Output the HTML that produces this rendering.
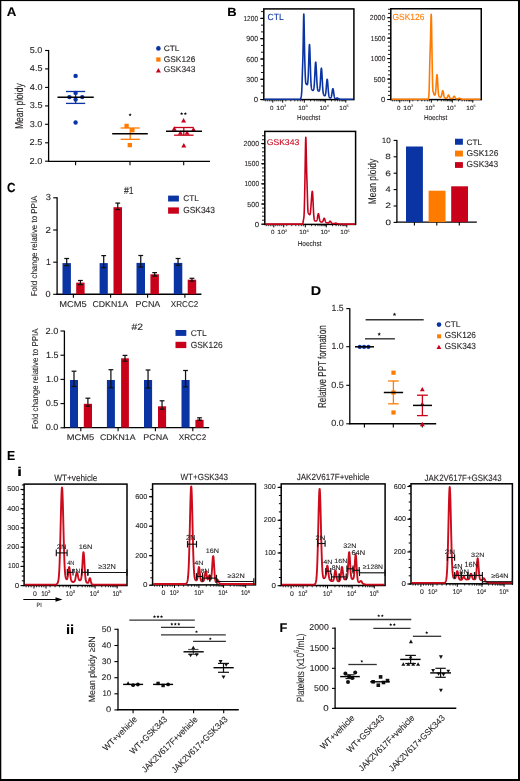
<!DOCTYPE html>
<html><head><meta charset="utf-8"><style>
html,body{margin:0;padding:0;background:#fff;}
svg{display:block;will-change:transform;font-family:"Liberation Sans",sans-serif;}
text{stroke-width:0.1px;text-rendering:geometricPrecision;}
</style></head><body>
<svg width="520" height="781" viewBox="0 0 520 781" fill="#231f20">
<rect x="0" y="0" width="520" height="781" fill="#000"/>
<rect x="1.3" y="1.1" width="516.7" height="777.9" fill="#fff"/>
<text x="6.67" y="16.1" font-size="12.5" font-weight="bold" fill="#000" stroke="#000" textLength="9.58" lengthAdjust="spacingAndGlyphs">A</text>
<line x1="48.6" y1="49.9" x2="48.6" y2="161.9" stroke="#000" stroke-width="1.3"/>
<line x1="45.1" y1="50.5" x2="48.6" y2="50.5" stroke="#000" stroke-width="1.1"/>
<text x="29.73" y="52.87" font-size="8.62" stroke="#231f20" textLength="12.72" lengthAdjust="spacingAndGlyphs">5.0</text>
<line x1="45.1" y1="68.9" x2="48.6" y2="68.9" stroke="#000" stroke-width="1.1"/>
<text x="29.89" y="71.26" font-size="8.74" stroke="#231f20" textLength="12.59" lengthAdjust="spacingAndGlyphs">4.5</text>
<line x1="45.1" y1="87.4" x2="48.6" y2="87.4" stroke="#000" stroke-width="1.1"/>
<text x="29.89" y="89.77" font-size="8.62" stroke="#231f20" textLength="12.56" lengthAdjust="spacingAndGlyphs">4.0</text>
<line x1="45.1" y1="105.9" x2="48.6" y2="105.9" stroke="#000" stroke-width="1.1"/>
<text x="29.75" y="108.27" font-size="8.62" stroke="#231f20" textLength="12.73" lengthAdjust="spacingAndGlyphs">3.5</text>
<line x1="45.1" y1="124.3" x2="48.6" y2="124.3" stroke="#000" stroke-width="1.1"/>
<text x="29.75" y="126.67" font-size="8.62" stroke="#231f20" textLength="12.71" lengthAdjust="spacingAndGlyphs">3.0</text>
<line x1="45.1" y1="142.8" x2="48.6" y2="142.8" stroke="#000" stroke-width="1.1"/>
<text x="29.63" y="145.17" font-size="8.62" stroke="#231f20" textLength="12.85" lengthAdjust="spacingAndGlyphs">2.5</text>
<line x1="45.1" y1="161.2" x2="48.6" y2="161.2" stroke="#000" stroke-width="1.1"/>
<text x="29.64" y="163.57" font-size="8.62" stroke="#231f20" textLength="12.82" lengthAdjust="spacingAndGlyphs">2.0</text>
<line x1="48" y1="161.3" x2="210" y2="161.3" stroke="#000" stroke-width="1.3"/>
<line x1="75.6" y1="161.3" x2="75.6" y2="165.3" stroke="#000" stroke-width="1.1"/>
<line x1="130" y1="161.3" x2="130" y2="165.3" stroke="#000" stroke-width="1.1"/>
<line x1="183.7" y1="161.3" x2="183.7" y2="165.3" stroke="#000" stroke-width="1.1"/>
<text x="23.12" y="129.1" font-size="11.48" stroke="#231f20" textLength="45.81" lengthAdjust="spacingAndGlyphs" transform="rotate(-90 23.12 129.1)">Mean ploidy</text>
<line x1="75.6" y1="91.5" x2="75.6" y2="103.4" stroke="#0a33a3" stroke-width="1.3"/>
<line x1="66" y1="91.5" x2="85.2" y2="91.5" stroke="#0a33a3" stroke-width="1.3"/>
<line x1="66" y1="103.4" x2="85.2" y2="103.4" stroke="#0a33a3" stroke-width="1.3"/>
<circle cx="75.6" cy="75.9" r="2.2" fill="#0a33a3"/>
<circle cx="75.6" cy="92.9" r="2.2" fill="#0a33a3"/>
<circle cx="69.4" cy="97.1" r="2.2" fill="#0a33a3"/>
<circle cx="82.25" cy="97.1" r="2.2" fill="#0a33a3"/>
<circle cx="75.6" cy="99.6" r="2.2" fill="#0a33a3"/>
<circle cx="75.6" cy="122.5" r="2.2" fill="#0a33a3"/>
<line x1="57.5" y1="97.25" x2="93.75" y2="97.25" stroke="#000" stroke-width="1.5"/>
<line x1="130.2" y1="128" x2="130.2" y2="139.3" stroke="#ff7b00" stroke-width="1.3"/>
<line x1="120.6" y1="128" x2="139.8" y2="128" stroke="#ff7b00" stroke-width="1.3"/>
<line x1="120.6" y1="139.3" x2="139.8" y2="139.3" stroke="#ff7b00" stroke-width="1.3"/>
<rect x="124.45" y="123.75" width="4.3" height="4.3" fill="#ff7b00"/>
<rect x="130.25" y="128.05" width="4.3" height="4.3" fill="#ff7b00"/>
<rect x="127.65" y="142.95" width="4.3" height="4.3" fill="#ff7b00"/>
<line x1="112.2" y1="133.85" x2="147.8" y2="133.85" stroke="#000" stroke-width="1.5"/>
<polygon points="130.1,113.05 130.56,114.16 131.76,114.26 130.85,115.04 131.13,116.22 130.1,115.59 129.07,116.22 129.35,115.04 128.44,114.26 129.64,114.16" fill="#111"/>
<line x1="183.8" y1="127.5" x2="183.8" y2="135.2" stroke="#c8001a" stroke-width="1.3"/>
<line x1="174.05" y1="127.5" x2="193.55" y2="127.5" stroke="#c8001a" stroke-width="1.3"/>
<line x1="174.05" y1="135.2" x2="193.55" y2="135.2" stroke="#c8001a" stroke-width="1.3"/>
<polygon points="183.6,117.9 181.1,122.4 186.1,122.4" fill="#c8001a"/>
<polygon points="174.2,126.3 171.7,130.8 176.7,130.8" fill="#c8001a"/>
<polygon points="193.5,127 191,131.5 196,131.5" fill="#c8001a"/>
<polygon points="180.4,130.2 177.9,134.7 182.9,134.7" fill="#c8001a"/>
<polygon points="187.1,130.2 184.6,134.7 189.6,134.7" fill="#c8001a"/>
<polygon points="183.8,143.1 181.3,147.6 186.3,147.6" fill="#c8001a"/>
<line x1="166" y1="131.3" x2="202" y2="131.3" stroke="#000" stroke-width="1.5"/>
<polygon points="181.65,112 182.1,113.08 183.27,113.17 182.38,113.94 182.65,115.08 181.65,114.47 180.65,115.08 180.92,113.94 180.03,113.17 181.2,113.08" fill="#111"/>
<polygon points="185.35,112 185.8,113.08 186.97,113.17 186.08,113.94 186.35,115.08 185.35,114.47 184.35,115.08 184.62,113.94 183.73,113.17 184.9,113.08" fill="#111"/>
<circle cx="158.4" cy="48.4" r="2.3" fill="#0a33a3"/>
<text x="163.78" y="51.02" font-size="7.91" stroke="#231f20" textLength="15.7" lengthAdjust="spacingAndGlyphs">CTL</text>
<rect x="156.25" y="57.35" width="4.3" height="4.3" fill="#ff7b00"/>
<text x="163.78" y="61.52" font-size="8.19" stroke="#231f20" textLength="31.59" lengthAdjust="spacingAndGlyphs">GSK126</text>
<polygon points="158.4,68.1 155.9,72.6 160.9,72.6" fill="#c8001a"/>
<text x="163.78" y="72.32" font-size="8.33" stroke="#231f20" textLength="31.59" lengthAdjust="spacingAndGlyphs">GSK343</text>
<text x="227.23" y="16.3" font-size="11.92" font-weight="bold" fill="#000" stroke="#000" textLength="9.35" lengthAdjust="spacingAndGlyphs">B</text>
<rect x="263.8" y="8.9" width="90.1" height="90.7" fill="none" stroke="#000" stroke-width="1.5"/>
<line x1="261" y1="99.6" x2="263.8" y2="99.6" stroke="#000" stroke-width="0.9"/>
<line x1="261" y1="92.83" x2="263.8" y2="92.83" stroke="#000" stroke-width="0.9"/>
<line x1="261" y1="86.06" x2="263.8" y2="86.06" stroke="#000" stroke-width="0.9"/>
<line x1="261" y1="79.29" x2="263.8" y2="79.29" stroke="#000" stroke-width="0.9"/>
<line x1="261" y1="72.52" x2="263.8" y2="72.52" stroke="#000" stroke-width="0.9"/>
<line x1="261" y1="65.75" x2="263.8" y2="65.75" stroke="#000" stroke-width="0.9"/>
<line x1="261" y1="58.98" x2="263.8" y2="58.98" stroke="#000" stroke-width="0.9"/>
<line x1="261" y1="52.21" x2="263.8" y2="52.21" stroke="#000" stroke-width="0.9"/>
<line x1="261" y1="45.44" x2="263.8" y2="45.44" stroke="#000" stroke-width="0.9"/>
<line x1="261" y1="38.67" x2="263.8" y2="38.67" stroke="#000" stroke-width="0.9"/>
<line x1="261" y1="31.9" x2="263.8" y2="31.9" stroke="#000" stroke-width="0.9"/>
<line x1="261" y1="25.13" x2="263.8" y2="25.13" stroke="#000" stroke-width="0.9"/>
<line x1="261" y1="18.36" x2="263.8" y2="18.36" stroke="#000" stroke-width="0.9"/>
<line x1="261" y1="11.59" x2="263.8" y2="11.59" stroke="#000" stroke-width="0.9"/>
<line x1="260.2" y1="18.4" x2="263.8" y2="18.4" stroke="#000" stroke-width="1.1"/>
<text x="243.46" y="20.93" font-size="7.34" stroke="#231f20" textLength="14.59" lengthAdjust="spacingAndGlyphs">1200</text>
<line x1="260.2" y1="38.7" x2="263.8" y2="38.7" stroke="#000" stroke-width="1.1"/>
<text x="246.31" y="41.23" font-size="7.34" stroke="#231f20" textLength="11.77" lengthAdjust="spacingAndGlyphs">900</text>
<line x1="260.2" y1="59" x2="263.8" y2="59" stroke="#000" stroke-width="1.1"/>
<text x="246.28" y="61.53" font-size="7.34" stroke="#231f20" textLength="11.8" lengthAdjust="spacingAndGlyphs">600</text>
<line x1="260.2" y1="79.3" x2="263.8" y2="79.3" stroke="#000" stroke-width="1.1"/>
<text x="246.37" y="81.83" font-size="7.34" stroke="#231f20" textLength="11.7" lengthAdjust="spacingAndGlyphs">300</text>
<line x1="260.2" y1="99.6" x2="263.8" y2="99.6" stroke="#000" stroke-width="1.1"/>
<text x="253.78" y="102.13" font-size="7.34" stroke="#231f20" textLength="4.33" lengthAdjust="spacingAndGlyphs">0</text>
<line x1="272.8" y1="99.6" x2="272.8" y2="102.6" stroke="#000" stroke-width="1"/>
<line x1="282.7" y1="99.6" x2="282.7" y2="102.6" stroke="#000" stroke-width="1"/>
<line x1="304.3" y1="99.6" x2="304.3" y2="102.6" stroke="#000" stroke-width="1"/>
<line x1="325.3" y1="99.6" x2="325.3" y2="102.6" stroke="#000" stroke-width="1"/>
<line x1="345.8" y1="99.6" x2="345.8" y2="102.6" stroke="#000" stroke-width="1"/>
<line x1="310.62" y1="99.6" x2="310.62" y2="101.4" stroke="#000" stroke-width="0.8"/>
<line x1="314.32" y1="99.6" x2="314.32" y2="101.4" stroke="#000" stroke-width="0.8"/>
<line x1="316.94" y1="99.6" x2="316.94" y2="101.4" stroke="#000" stroke-width="0.8"/>
<line x1="318.98" y1="99.6" x2="318.98" y2="101.4" stroke="#000" stroke-width="0.8"/>
<line x1="320.64" y1="99.6" x2="320.64" y2="101.4" stroke="#000" stroke-width="0.8"/>
<line x1="322.05" y1="99.6" x2="322.05" y2="101.4" stroke="#000" stroke-width="0.8"/>
<line x1="323.26" y1="99.6" x2="323.26" y2="101.4" stroke="#000" stroke-width="0.8"/>
<line x1="324.34" y1="99.6" x2="324.34" y2="101.4" stroke="#000" stroke-width="0.8"/>
<line x1="331.47" y1="99.6" x2="331.47" y2="101.4" stroke="#000" stroke-width="0.8"/>
<line x1="335.08" y1="99.6" x2="335.08" y2="101.4" stroke="#000" stroke-width="0.8"/>
<line x1="337.64" y1="99.6" x2="337.64" y2="101.4" stroke="#000" stroke-width="0.8"/>
<line x1="339.63" y1="99.6" x2="339.63" y2="101.4" stroke="#000" stroke-width="0.8"/>
<line x1="341.25" y1="99.6" x2="341.25" y2="101.4" stroke="#000" stroke-width="0.8"/>
<line x1="342.62" y1="99.6" x2="342.62" y2="101.4" stroke="#000" stroke-width="0.8"/>
<line x1="343.81" y1="99.6" x2="343.81" y2="101.4" stroke="#000" stroke-width="0.8"/>
<line x1="344.86" y1="99.6" x2="344.86" y2="101.4" stroke="#000" stroke-width="0.8"/>
<line x1="265.3" y1="99.6" x2="265.3" y2="101.4" stroke="#000" stroke-width="0.8"/>
<line x1="267.3" y1="99.6" x2="267.3" y2="101.4" stroke="#000" stroke-width="0.8"/>
<line x1="269.3" y1="99.6" x2="269.3" y2="101.4" stroke="#000" stroke-width="0.8"/>
<line x1="271.1" y1="99.6" x2="271.1" y2="101.4" stroke="#000" stroke-width="0.8"/>
<line x1="274.8" y1="99.6" x2="274.8" y2="101.4" stroke="#000" stroke-width="0.8"/>
<line x1="276.8" y1="99.6" x2="276.8" y2="101.4" stroke="#000" stroke-width="0.8"/>
<line x1="278.8" y1="99.6" x2="278.8" y2="101.4" stroke="#000" stroke-width="0.8"/>
<line x1="280.8" y1="99.6" x2="280.8" y2="101.4" stroke="#000" stroke-width="0.8"/>
<line x1="285.8" y1="99.6" x2="285.8" y2="101.4" stroke="#000" stroke-width="0.8"/>
<line x1="290.8" y1="99.6" x2="290.8" y2="101.4" stroke="#000" stroke-width="0.8"/>
<line x1="294.8" y1="99.6" x2="294.8" y2="101.4" stroke="#000" stroke-width="0.8"/>
<line x1="297.8" y1="99.6" x2="297.8" y2="101.4" stroke="#000" stroke-width="0.8"/>
<line x1="300.3" y1="99.6" x2="300.3" y2="101.4" stroke="#000" stroke-width="0.8"/>
<line x1="302.3" y1="99.6" x2="302.3" y2="101.4" stroke="#000" stroke-width="0.8"/>
<text x="270.05" y="109.64" font-size="5.93" stroke="#231f20" textLength="3.49" lengthAdjust="spacingAndGlyphs">0</text>
<text x="276.37" y="109.64" font-size="5.93" stroke="#231f20" textLength="7.7" lengthAdjust="spacingAndGlyphs">10</text>
<text x="284.06" y="107.46" font-size="3.31" stroke="#231f20" textLength="2.15" lengthAdjust="spacingAndGlyphs">2</text>
<text x="298.2" y="109.64" font-size="5.93" stroke="#231f20" textLength="7.25" lengthAdjust="spacingAndGlyphs">10</text>
<text x="305.51" y="107.43" font-size="3.26" stroke="#231f20" textLength="2.07" lengthAdjust="spacingAndGlyphs">3</text>
<text x="319.5" y="109.64" font-size="5.93" stroke="#231f20" textLength="7.25" lengthAdjust="spacingAndGlyphs">10</text>
<text x="326.87" y="107.46" font-size="3.36" stroke="#231f20" textLength="1.95" lengthAdjust="spacingAndGlyphs">4</text>
<text x="339.3" y="109.64" font-size="5.93" stroke="#231f20" textLength="7.25" lengthAdjust="spacingAndGlyphs">10</text>
<text x="346.6" y="107.43" font-size="3.31" stroke="#231f20" textLength="2.07" lengthAdjust="spacingAndGlyphs">5</text>
<text x="297.08" y="119.83" font-size="7.35" stroke="#231f20" textLength="23.16" lengthAdjust="spacingAndGlyphs">Hoechst</text>
<path d="M264.5,99.3 L300.6,99.3 L300.7,98.87 L300.8,98.44 L300.9,98.01 L301,97.58 L301.1,97.14 L301.2,96.68 L301.3,96.17 L301.4,95.42 L301.5,94.51 L301.6,93.36 L301.7,91.87 L301.8,90 L301.9,87.7 L302,85.02 L302.1,82.02 L302.2,78.84 L302.3,75.59 L302.4,72.37 L302.5,69.23 L302.6,66.49 L302.7,63.7 L302.8,60.69 L302.9,57.25 L303,53.16 L303.1,48.29 L303.2,42.65 L303.3,36.4 L303.4,29.95 L303.5,23.86 L303.6,18.79 L303.7,15.36 L303.8,14 L303.9,14.89 L304,17.9 L304.1,22.61 L304.2,28.43 L304.3,34.74 L304.4,40.99 L304.5,46.81 L304.6,52.01 L304.7,56.55 L304.8,60.53 L304.9,64.07 L305,67.29 L305.1,70.53 L305.2,73.49 L305.3,76.13 L305.4,78.38 L305.5,80.19 L305.6,81.57 L305.7,82.54 L305.8,83.17 L305.9,83.57 L306,83.8 L306.1,83.94 L306.2,84.03 L306.3,84.1 L306.4,84.17 L306.5,84.22 L306.6,84.28 L306.7,84.38 L306.8,84.48 L306.9,84.57 L307,84.63 L307.1,84.67 L307.2,84.66 L307.3,84.59 L307.4,84.44 L307.5,84.19 L307.6,83.81 L307.7,83.25 L307.8,82.5 L307.9,81.49 L308,80.21 L308.1,78.62 L308.2,76.7 L308.3,74.43 L308.4,71.84 L308.5,68.94 L308.6,65.81 L308.7,62.51 L308.8,59.15 L308.9,55.85 L309,52.76 L309.1,49.97 L309.2,47.66 L309.3,45.93 L309.4,44.9 L309.5,44.6 L309.6,45.07 L309.7,46.28 L309.8,48.18 L309.9,50.66 L310,53.63 L310.1,56.93 L310.2,60.44 L310.3,64 L310.4,67.52 L310.5,70.87 L310.6,73.97 L310.7,76.78 L310.8,79.25 L310.9,81.39 L311,83.19 L311.1,84.68 L311.2,85.9 L311.3,86.87 L311.4,87.63 L311.5,88.23 L311.6,88.69 L311.7,89.05 L311.8,89.33 L311.9,89.55 L312,89.73 L312.1,89.87 L312.2,90 L312.3,90.11 L312.4,90.21 L312.5,90.3 L312.6,90.39 L312.7,90.47 L312.8,90.47 L312.9,90.46 L313,90.43 L313.1,90.39 L313.2,90.33 L313.3,90.24 L313.4,90.11 L313.5,89.93 L313.6,89.68 L313.7,89.34 L313.8,88.9 L313.9,88.34 L314,87.63 L314.1,86.76 L314.2,85.7 L314.3,84.45 L314.4,83.01 L314.5,81.36 L314.6,79.54 L314.7,77.56 L314.8,75.47 L314.9,73.31 L315,71.16 L315.1,69.08 L315.2,67.14 L315.3,65.43 L315.4,64.02 L315.5,62.96 L315.6,62.31 L315.7,62.1 L315.8,62.33 L315.9,63 L316,64.08 L316.1,65.51 L316.2,67.24 L316.3,69.2 L316.4,71.3 L316.5,73.48 L316.6,75.65 L316.7,77.76 L316.8,79.76 L316.9,81.61 L317,83.27 L317.1,84.74 L317.2,86.01 L317.3,87.08 L317.4,87.98 L317.5,88.7 L317.6,89.29 L317.7,89.75 L317.8,90.1 L317.9,90.37 L318,90.58 L318.1,90.73 L318.2,90.83 L318.3,90.91 L318.4,90.96 L318.5,90.99 L318.6,91 L318.7,91.07 L318.8,91.11 L318.9,91.14 L319,91.13 L319.1,91.09 L319.2,91 L319.3,90.85 L319.4,90.63 L319.5,90.31 L319.6,89.89 L319.7,89.34 L319.8,88.65 L319.9,87.8 L320,86.78 L320.1,85.58 L320.2,84.21 L320.3,82.69 L320.4,81.03 L320.5,79.26 L320.6,77.45 L320.7,75.63 L320.8,73.88 L320.9,72.26 L321,70.83 L321.1,69.67 L321.2,68.81 L321.3,68.32 L321.4,68.2 L321.5,68.47 L321.6,69.13 L321.7,70.14 L321.8,71.47 L321.9,73.05 L322,74.83 L322.1,76.74 L322.2,78.71 L322.3,80.69 L322.4,82.61 L322.5,84.42 L322.6,86.11 L322.7,87.63 L322.8,88.99 L322.9,90.17 L323,91.18 L323.1,92.03 L323.2,92.74 L323.3,93.32 L323.4,93.79 L323.5,94.17 L323.6,94.48 L323.7,94.73 L323.8,94.93 L323.9,95.09 L324,95.23 L324.1,95.35 L324.2,95.46 L324.3,95.54 L324.4,95.62 L324.5,95.69 L324.6,95.74 L324.7,95.78 L324.8,95.8 L324.9,95.75 L325,95.67 L325.1,95.55 L325.2,95.38 L325.3,95.14 L325.4,94.82 L325.5,94.42 L325.6,93.92 L325.7,93.3 L325.8,92.57 L325.9,91.71 L326,90.74 L326.1,89.65 L326.2,88.47 L326.3,87.21 L326.4,85.92 L326.5,84.64 L326.6,83.39 L326.7,82.24 L326.8,81.22 L326.9,80.38 L327,79.77 L327.1,79.4 L327.2,79.3 L327.3,79.47 L327.4,79.92 L327.5,80.61 L327.6,81.52 L327.7,82.61 L327.8,83.84 L327.9,85.16 L328,86.52 L328.1,87.89 L328.2,89.21 L328.3,90.47 L328.4,91.63 L328.5,92.68 L328.6,93.61 L328.7,94.42 L328.8,95.11 L328.9,95.69 L329,96.16 L329.1,96.55 L329.2,96.87 L329.3,97.11 L329.4,97.31 L329.5,97.47 L329.6,97.59 L329.7,97.69 L329.8,97.77 L329.9,97.83 L330,97.86 L330.1,97.88 L330.2,97.9 L330.3,97.9 L330.4,97.9 L330.5,97.88 L330.6,97.85 L330.7,97.8 L330.8,97.73 L330.9,97.62 L331,97.49 L331.1,97.31 L331.2,97.08 L331.3,96.8 L331.4,96.46 L331.5,96.05 L331.6,95.58 L331.7,95.04 L331.8,94.43 L331.9,93.78 L332,93.09 L332.1,92.38 L332.2,91.66 L332.3,90.98 L332.4,90.34 L332.5,89.77 L332.6,89.31 L332.7,88.97 L332.8,88.76 L332.9,88.7 L333,88.79 L333.1,89.03 L333.2,89.4 L333.3,89.89 L333.4,90.49 L333.5,91.15 L333.6,91.87 L333.7,92.61 L333.8,93.36 L333.9,94.08 L334,94.76 L334.1,95.39 L334.2,95.96 L334.3,96.47 L334.4,96.91 L334.5,97.28 L334.6,97.59 L334.7,97.84 L334.8,98.04 L334.9,98.2 L335,98.32 L335.1,98.42 L335.2,98.48 L335.3,98.53 L335.4,98.56 L335.5,98.58 L335.6,98.59 L335.7,98.58 L335.8,98.57 L335.9,98.54 L336,98.51 L336.1,98.47 L336.2,98.43 L336.3,98.38 L336.4,98.32 L336.5,98.27 L336.6,98.21 L336.7,98.15 L336.8,98.1 L336.9,98.06 L337,98.03 L337.1,98.01 L337.2,98 L337.3,98 L337.4,98.02 L337.5,98.05 L337.6,98.1 L337.7,98.15 L337.8,98.22 L337.9,98.29 L338,98.37 L338.1,98.45 L338.2,98.53 L338.3,98.61 L338.4,98.68 L338.5,98.75 L338.6,98.81 L338.7,98.87 L338.8,98.92 L338.9,98.97 L339,99.01 L339.1,99.03 L339.2,99.06 L339.3,99.08 L339.4,99.1 L339.5,99.11 L339.6,99.13 L339.7,99.14 L339.8,99.15 L339.9,99.16 L340,99.16 L340.1,99.17 L340.2,99.18 L340.3,99.19 L340.4,99.19 L340.5,99.2 L340.6,99.21 L340.7,99.21 L340.8,99.22 L340.9,99.23 L341,99.23 L341.1,99.24 L341.2,99.25 L341.3,99.25 L341.4,99.26 L341.5,99.27 L341.6,99.27 L341.7,99.28 L341.8,99.29 L353.2,99.3" stroke="#0a33a3" stroke-width="1.6" fill="none" stroke-linejoin="round"/>
<text x="267.56" y="19.51" font-size="8.9" fill="#0a33a3" stroke="#0a33a3" textLength="16.22" lengthAdjust="spacingAndGlyphs">CTL</text>
<rect x="390.8" y="8.75" width="90.45" height="90.85" fill="none" stroke="#000" stroke-width="1.5"/>
<line x1="388" y1="99.5" x2="390.8" y2="99.5" stroke="#000" stroke-width="0.9"/>
<line x1="388" y1="95.4" x2="390.8" y2="95.4" stroke="#000" stroke-width="0.9"/>
<line x1="388" y1="91.3" x2="390.8" y2="91.3" stroke="#000" stroke-width="0.9"/>
<line x1="388" y1="87.2" x2="390.8" y2="87.2" stroke="#000" stroke-width="0.9"/>
<line x1="388" y1="83.1" x2="390.8" y2="83.1" stroke="#000" stroke-width="0.9"/>
<line x1="388" y1="79" x2="390.8" y2="79" stroke="#000" stroke-width="0.9"/>
<line x1="388" y1="74.9" x2="390.8" y2="74.9" stroke="#000" stroke-width="0.9"/>
<line x1="388" y1="70.8" x2="390.8" y2="70.8" stroke="#000" stroke-width="0.9"/>
<line x1="388" y1="66.7" x2="390.8" y2="66.7" stroke="#000" stroke-width="0.9"/>
<line x1="388" y1="62.6" x2="390.8" y2="62.6" stroke="#000" stroke-width="0.9"/>
<line x1="388" y1="58.5" x2="390.8" y2="58.5" stroke="#000" stroke-width="0.9"/>
<line x1="388" y1="54.4" x2="390.8" y2="54.4" stroke="#000" stroke-width="0.9"/>
<line x1="388" y1="50.3" x2="390.8" y2="50.3" stroke="#000" stroke-width="0.9"/>
<line x1="388" y1="46.2" x2="390.8" y2="46.2" stroke="#000" stroke-width="0.9"/>
<line x1="388" y1="42.1" x2="390.8" y2="42.1" stroke="#000" stroke-width="0.9"/>
<line x1="388" y1="38" x2="390.8" y2="38" stroke="#000" stroke-width="0.9"/>
<line x1="388" y1="33.9" x2="390.8" y2="33.9" stroke="#000" stroke-width="0.9"/>
<line x1="388" y1="29.8" x2="390.8" y2="29.8" stroke="#000" stroke-width="0.9"/>
<line x1="388" y1="25.7" x2="390.8" y2="25.7" stroke="#000" stroke-width="0.9"/>
<line x1="388" y1="21.6" x2="390.8" y2="21.6" stroke="#000" stroke-width="0.9"/>
<line x1="388" y1="17.5" x2="390.8" y2="17.5" stroke="#000" stroke-width="0.9"/>
<line x1="388" y1="13.4" x2="390.8" y2="13.4" stroke="#000" stroke-width="0.9"/>
<line x1="388" y1="9.3" x2="390.8" y2="9.3" stroke="#000" stroke-width="0.9"/>
<line x1="387.2" y1="17.75" x2="390.8" y2="17.75" stroke="#000" stroke-width="1.1"/>
<text x="369.87" y="20.28" font-size="7.34" stroke="#231f20" textLength="15.5" lengthAdjust="spacingAndGlyphs">2000</text>
<line x1="387.2" y1="38.2" x2="390.8" y2="38.2" stroke="#000" stroke-width="1.1"/>
<text x="370.76" y="40.73" font-size="7.34" stroke="#231f20" textLength="14.59" lengthAdjust="spacingAndGlyphs">1500</text>
<line x1="387.2" y1="58.6" x2="390.8" y2="58.6" stroke="#000" stroke-width="1.1"/>
<text x="370.76" y="61.13" font-size="7.34" stroke="#231f20" textLength="14.59" lengthAdjust="spacingAndGlyphs">1000</text>
<line x1="387.2" y1="79.1" x2="390.8" y2="79.1" stroke="#000" stroke-width="1.1"/>
<text x="373.66" y="81.63" font-size="7.34" stroke="#231f20" textLength="11.72" lengthAdjust="spacingAndGlyphs">500</text>
<line x1="387.2" y1="99.5" x2="390.8" y2="99.5" stroke="#000" stroke-width="1.1"/>
<text x="381.08" y="102.03" font-size="7.34" stroke="#231f20" textLength="4.33" lengthAdjust="spacingAndGlyphs">0</text>
<line x1="399.8" y1="99.6" x2="399.8" y2="102.6" stroke="#000" stroke-width="1"/>
<line x1="409.7" y1="99.6" x2="409.7" y2="102.6" stroke="#000" stroke-width="1"/>
<line x1="431.3" y1="99.6" x2="431.3" y2="102.6" stroke="#000" stroke-width="1"/>
<line x1="452.3" y1="99.6" x2="452.3" y2="102.6" stroke="#000" stroke-width="1"/>
<line x1="472.8" y1="99.6" x2="472.8" y2="102.6" stroke="#000" stroke-width="1"/>
<line x1="437.62" y1="99.6" x2="437.62" y2="101.4" stroke="#000" stroke-width="0.8"/>
<line x1="441.32" y1="99.6" x2="441.32" y2="101.4" stroke="#000" stroke-width="0.8"/>
<line x1="443.94" y1="99.6" x2="443.94" y2="101.4" stroke="#000" stroke-width="0.8"/>
<line x1="445.98" y1="99.6" x2="445.98" y2="101.4" stroke="#000" stroke-width="0.8"/>
<line x1="447.64" y1="99.6" x2="447.64" y2="101.4" stroke="#000" stroke-width="0.8"/>
<line x1="449.05" y1="99.6" x2="449.05" y2="101.4" stroke="#000" stroke-width="0.8"/>
<line x1="450.26" y1="99.6" x2="450.26" y2="101.4" stroke="#000" stroke-width="0.8"/>
<line x1="451.34" y1="99.6" x2="451.34" y2="101.4" stroke="#000" stroke-width="0.8"/>
<line x1="458.47" y1="99.6" x2="458.47" y2="101.4" stroke="#000" stroke-width="0.8"/>
<line x1="462.08" y1="99.6" x2="462.08" y2="101.4" stroke="#000" stroke-width="0.8"/>
<line x1="464.64" y1="99.6" x2="464.64" y2="101.4" stroke="#000" stroke-width="0.8"/>
<line x1="466.63" y1="99.6" x2="466.63" y2="101.4" stroke="#000" stroke-width="0.8"/>
<line x1="468.25" y1="99.6" x2="468.25" y2="101.4" stroke="#000" stroke-width="0.8"/>
<line x1="469.62" y1="99.6" x2="469.62" y2="101.4" stroke="#000" stroke-width="0.8"/>
<line x1="470.81" y1="99.6" x2="470.81" y2="101.4" stroke="#000" stroke-width="0.8"/>
<line x1="471.86" y1="99.6" x2="471.86" y2="101.4" stroke="#000" stroke-width="0.8"/>
<line x1="392.3" y1="99.6" x2="392.3" y2="101.4" stroke="#000" stroke-width="0.8"/>
<line x1="394.3" y1="99.6" x2="394.3" y2="101.4" stroke="#000" stroke-width="0.8"/>
<line x1="396.3" y1="99.6" x2="396.3" y2="101.4" stroke="#000" stroke-width="0.8"/>
<line x1="398.1" y1="99.6" x2="398.1" y2="101.4" stroke="#000" stroke-width="0.8"/>
<line x1="401.8" y1="99.6" x2="401.8" y2="101.4" stroke="#000" stroke-width="0.8"/>
<line x1="403.8" y1="99.6" x2="403.8" y2="101.4" stroke="#000" stroke-width="0.8"/>
<line x1="405.8" y1="99.6" x2="405.8" y2="101.4" stroke="#000" stroke-width="0.8"/>
<line x1="407.8" y1="99.6" x2="407.8" y2="101.4" stroke="#000" stroke-width="0.8"/>
<line x1="412.8" y1="99.6" x2="412.8" y2="101.4" stroke="#000" stroke-width="0.8"/>
<line x1="417.8" y1="99.6" x2="417.8" y2="101.4" stroke="#000" stroke-width="0.8"/>
<line x1="421.8" y1="99.6" x2="421.8" y2="101.4" stroke="#000" stroke-width="0.8"/>
<line x1="424.8" y1="99.6" x2="424.8" y2="101.4" stroke="#000" stroke-width="0.8"/>
<line x1="427.3" y1="99.6" x2="427.3" y2="101.4" stroke="#000" stroke-width="0.8"/>
<line x1="429.3" y1="99.6" x2="429.3" y2="101.4" stroke="#000" stroke-width="0.8"/>
<text x="397.05" y="109.64" font-size="5.93" stroke="#231f20" textLength="3.49" lengthAdjust="spacingAndGlyphs">0</text>
<text x="403.37" y="109.64" font-size="5.93" stroke="#231f20" textLength="7.7" lengthAdjust="spacingAndGlyphs">10</text>
<text x="411.06" y="107.46" font-size="3.31" stroke="#231f20" textLength="2.15" lengthAdjust="spacingAndGlyphs">2</text>
<text x="425.2" y="109.64" font-size="5.93" stroke="#231f20" textLength="7.25" lengthAdjust="spacingAndGlyphs">10</text>
<text x="432.51" y="107.43" font-size="3.26" stroke="#231f20" textLength="2.07" lengthAdjust="spacingAndGlyphs">3</text>
<text x="446.5" y="109.64" font-size="5.93" stroke="#231f20" textLength="7.25" lengthAdjust="spacingAndGlyphs">10</text>
<text x="453.87" y="107.46" font-size="3.36" stroke="#231f20" textLength="1.95" lengthAdjust="spacingAndGlyphs">4</text>
<text x="466.3" y="109.64" font-size="5.93" stroke="#231f20" textLength="7.25" lengthAdjust="spacingAndGlyphs">10</text>
<text x="473.6" y="107.43" font-size="3.31" stroke="#231f20" textLength="2.07" lengthAdjust="spacingAndGlyphs">5</text>
<text x="423.88" y="119.93" font-size="7.35" stroke="#231f20" textLength="23.37" lengthAdjust="spacingAndGlyphs">Hoechst</text>
<path d="M391.5,99.3 L428.2,99.3 L428.3,98.92 L428.4,98.54 L428.5,98.13 L428.6,97.66 L428.7,97.07 L428.8,96.24 L428.9,95.04 L429,93.3 L429.1,91.01 L429.2,87.97 L429.3,84.23 L429.4,79.94 L429.5,75.31 L429.6,70.61 L429.7,66.1 L429.8,61.95 L429.9,58.25 L430,54.98 L430.1,52.03 L430.2,49.22 L430.3,46.32 L430.4,43.1 L430.5,39.41 L430.6,35.2 L430.7,30.56 L430.8,25.76 L430.9,21.22 L431,17.42 L431.1,15.13 L431.2,14.4 L431.3,15.42 L431.4,18.13 L431.5,22.31 L431.6,27.58 L431.7,33.56 L431.8,39.89 L431.9,46.31 L432,52.67 L432.1,58.85 L432.2,64.8 L432.3,70.4 L432.4,75.54 L432.5,80.07 L432.6,83.85 L432.7,86.81 L432.8,88.96 L432.9,90.4 L433,91.28 L433.1,91.78 L433.2,92.04 L433.3,92.17 L433.4,92.25 L433.5,92.3 L433.6,92.72 L433.7,93.13 L433.8,93.55 L433.9,93.96 L434,94.38 L434.1,94.79 L434.2,94.86 L434.3,94.92 L434.4,94.98 L434.5,95.03 L434.6,95.06 L434.7,95.07 L434.8,95.06 L434.9,95 L435,94.89 L435.1,94.7 L435.2,94.44 L435.3,94.07 L435.4,93.58 L435.5,92.94 L435.6,92.15 L435.7,91.19 L435.8,90.05 L435.9,88.75 L436,87.3 L436.1,85.66 L436.2,83.94 L436.3,82.19 L436.4,80.48 L436.5,78.87 L436.6,77.42 L436.7,76.22 L436.8,75.33 L436.9,74.77 L437,74.6 L437.1,74.81 L437.2,75.4 L437.3,76.34 L437.4,77.58 L437.5,79.06 L437.6,80.71 L437.7,82.47 L437.8,84.25 L437.9,86.01 L438,87.69 L438.1,89.24 L438.2,90.64 L438.3,91.87 L438.4,92.93 L438.5,93.82 L438.6,94.56 L438.7,95.15 L438.8,95.62 L438.9,95.98 L439,96.26 L439.1,96.47 L439.2,96.63 L439.3,96.74 L439.4,96.83 L439.5,96.9 L439.6,96.95 L439.7,96.99 L439.8,97.02 L439.9,97.04 L440,97.07 L440.1,97.09 L440.2,97.1 L440.3,97.11 L440.4,97.12 L440.5,97.12 L440.6,97.11 L440.7,97.09 L440.8,97.05 L440.9,96.98 L441,96.89 L441.1,96.77 L441.2,96.61 L441.3,96.4 L441.4,96.15 L441.5,95.84 L441.6,95.47 L441.7,95.06 L441.8,94.59 L441.9,94.08 L442,93.55 L442.1,93.01 L442.2,92.48 L442.3,91.98 L442.4,91.54 L442.5,91.17 L442.6,90.9 L442.7,90.74 L442.8,90.7 L442.9,90.78 L443,90.98 L443.1,91.3 L443.2,91.7 L443.3,92.19 L443.4,92.73 L443.5,93.3 L443.6,93.88 L443.7,94.45 L443.8,95 L443.9,95.5 L444,95.96 L444.1,96.37 L444.2,96.72 L444.3,97.01 L444.4,97.26 L444.5,97.46 L444.6,97.63 L444.7,97.76 L444.8,97.86 L444.9,97.94 L445,98 L445.1,98.05 L445.2,98.1 L445.3,98.13 L445.4,98.16 L445.5,98.18 L445.6,98.21 L445.7,98.23 L445.8,98.25 L445.9,98.26 L446,98.27 L446.1,98.27 L446.2,98.26 L446.3,98.24 L446.4,98.21 L446.5,98.18 L446.6,98.13 L446.7,98.07 L446.8,97.99 L446.9,97.9 L447,97.78 L447.1,97.64 L447.2,97.47 L447.3,97.29 L447.4,97.08 L447.5,96.85 L447.6,96.61 L447.7,96.37 L447.8,96.12 L447.9,95.89 L448,95.66 L448.1,95.47 L448.2,95.31 L448.3,95.19 L448.4,95.12 L448.5,95.1 L448.6,95.13 L448.7,95.21 L448.8,95.34 L448.9,95.51 L449,95.71 L449.1,95.95 L449.2,96.19 L449.3,96.45 L449.4,96.7 L449.5,96.95 L449.6,97.19 L449.7,97.41 L449.8,97.6 L449.9,97.78 L450,97.93 L450.1,98.06 L450.2,98.16 L450.3,98.25 L450.4,98.32 L450.5,98.38 L450.6,98.42 L450.7,98.46 L450.8,98.49 L450.9,98.51 L451,98.52 L451.1,98.54 L451.2,98.55 L451.3,98.55 L451.4,98.56 L451.5,98.56 L451.6,98.57 L451.7,98.57 L451.8,98.56 L451.9,98.56 L452,98.54 L452.1,98.53 L452.2,98.5 L452.3,98.47 L452.4,98.43 L452.5,98.37 L452.6,98.3 L452.7,98.22 L452.8,98.12 L452.9,98 L453,97.87 L453.1,97.72 L453.2,97.56 L453.3,97.39 L453.4,97.21 L453.5,97.03 L453.6,96.86 L453.7,96.7 L453.8,96.56 L453.9,96.45 L454,96.36 L454.1,96.31 L454.2,96.3 L454.3,96.32 L454.4,96.38 L454.5,96.48 L454.6,96.6 L454.7,96.75 L454.8,96.92 L454.9,97.1 L455,97.29 L455.1,97.48 L455.2,97.66 L455.3,97.83 L455.4,97.99 L455.5,98.13 L455.6,98.26 L455.7,98.37 L455.8,98.46 L455.9,98.54 L456,98.61 L456.1,98.66 L456.2,98.7 L456.3,98.74 L456.4,98.76 L456.5,98.79 L456.6,98.8 L456.7,98.81 L456.8,98.83 L456.9,98.83 L457,98.84 L457.1,98.84 L457.2,98.85 L457.3,98.85 L457.4,98.84 L457.5,98.84 L457.6,98.83 L457.7,98.82 L457.8,98.81 L457.9,98.79 L458,98.76 L458.1,98.73 L458.2,98.7 L458.3,98.66 L458.4,98.62 L458.5,98.57 L458.6,98.52 L458.7,98.46 L458.8,98.41 L458.9,98.36 L459,98.31 L459.1,98.27 L459.2,98.23 L459.3,98.21 L459.4,98.2 L459.5,98.2 L459.6,98.21 L459.7,98.24 L459.8,98.27 L459.9,98.32 L460,98.38 L460.1,98.44 L460.2,98.5 L460.3,98.57 L460.4,98.64 L460.5,98.7 L460.6,98.76 L460.7,98.82 L460.8,98.87 L460.9,98.92 L461,98.96 L461.1,99 L461.2,99.03 L461.3,99.06 L461.4,99.08 L461.5,99.1 L461.6,99.11 L461.7,99.13 L461.8,99.14 L461.9,99.15 L462,99.16 L462.1,99.17 L462.2,99.18 L462.3,99.18 L462.4,99.19 L462.5,99.2 L462.6,99.21 L462.7,99.21 L462.8,99.22 L462.9,99.23 L463,99.23 L463.1,99.24 L463.2,99.25 L463.3,99.25 L463.4,99.26 L463.5,99.27 L463.6,99.27 L463.7,99.28 L463.8,99.29 L480.5,99.3" stroke="#ff7b00" stroke-width="1.6" fill="none" stroke-linejoin="round"/>
<text x="392.48" y="19.71" font-size="9.04" fill="#ff7b00" stroke="#ff7b00" textLength="31.9" lengthAdjust="spacingAndGlyphs">GSK126</text>
<rect x="264.8" y="131.4" width="90.8" height="93" fill="none" stroke="#000" stroke-width="1.5"/>
<line x1="262" y1="224.2" x2="264.8" y2="224.2" stroke="#000" stroke-width="0.9"/>
<line x1="262" y1="220.18" x2="264.8" y2="220.18" stroke="#000" stroke-width="0.9"/>
<line x1="262" y1="216.16" x2="264.8" y2="216.16" stroke="#000" stroke-width="0.9"/>
<line x1="262" y1="212.14" x2="264.8" y2="212.14" stroke="#000" stroke-width="0.9"/>
<line x1="262" y1="208.12" x2="264.8" y2="208.12" stroke="#000" stroke-width="0.9"/>
<line x1="262" y1="204.1" x2="264.8" y2="204.1" stroke="#000" stroke-width="0.9"/>
<line x1="262" y1="200.08" x2="264.8" y2="200.08" stroke="#000" stroke-width="0.9"/>
<line x1="262" y1="196.06" x2="264.8" y2="196.06" stroke="#000" stroke-width="0.9"/>
<line x1="262" y1="192.04" x2="264.8" y2="192.04" stroke="#000" stroke-width="0.9"/>
<line x1="262" y1="188.02" x2="264.8" y2="188.02" stroke="#000" stroke-width="0.9"/>
<line x1="262" y1="184" x2="264.8" y2="184" stroke="#000" stroke-width="0.9"/>
<line x1="262" y1="179.98" x2="264.8" y2="179.98" stroke="#000" stroke-width="0.9"/>
<line x1="262" y1="175.96" x2="264.8" y2="175.96" stroke="#000" stroke-width="0.9"/>
<line x1="262" y1="171.94" x2="264.8" y2="171.94" stroke="#000" stroke-width="0.9"/>
<line x1="262" y1="167.92" x2="264.8" y2="167.92" stroke="#000" stroke-width="0.9"/>
<line x1="262" y1="163.9" x2="264.8" y2="163.9" stroke="#000" stroke-width="0.9"/>
<line x1="262" y1="159.88" x2="264.8" y2="159.88" stroke="#000" stroke-width="0.9"/>
<line x1="262" y1="155.86" x2="264.8" y2="155.86" stroke="#000" stroke-width="0.9"/>
<line x1="262" y1="151.84" x2="264.8" y2="151.84" stroke="#000" stroke-width="0.9"/>
<line x1="262" y1="147.82" x2="264.8" y2="147.82" stroke="#000" stroke-width="0.9"/>
<line x1="262" y1="143.8" x2="264.8" y2="143.8" stroke="#000" stroke-width="0.9"/>
<line x1="262" y1="139.78" x2="264.8" y2="139.78" stroke="#000" stroke-width="0.9"/>
<line x1="262" y1="135.76" x2="264.8" y2="135.76" stroke="#000" stroke-width="0.9"/>
<line x1="261.2" y1="143.5" x2="264.8" y2="143.5" stroke="#000" stroke-width="1.1"/>
<text x="243.57" y="146.03" font-size="7.34" stroke="#231f20" textLength="15.5" lengthAdjust="spacingAndGlyphs">2000</text>
<line x1="261.2" y1="163.7" x2="264.8" y2="163.7" stroke="#000" stroke-width="1.1"/>
<text x="244.46" y="166.23" font-size="7.34" stroke="#231f20" textLength="14.59" lengthAdjust="spacingAndGlyphs">1500</text>
<line x1="261.2" y1="183.8" x2="264.8" y2="183.8" stroke="#000" stroke-width="1.1"/>
<text x="244.46" y="186.33" font-size="7.34" stroke="#231f20" textLength="14.59" lengthAdjust="spacingAndGlyphs">1000</text>
<line x1="261.2" y1="204" x2="264.8" y2="204" stroke="#000" stroke-width="1.1"/>
<text x="247.36" y="206.53" font-size="7.34" stroke="#231f20" textLength="11.72" lengthAdjust="spacingAndGlyphs">500</text>
<line x1="261.2" y1="224.2" x2="264.8" y2="224.2" stroke="#000" stroke-width="1.1"/>
<text x="254.78" y="226.73" font-size="7.34" stroke="#231f20" textLength="4.33" lengthAdjust="spacingAndGlyphs">0</text>
<line x1="273.8" y1="224.4" x2="273.8" y2="227.4" stroke="#000" stroke-width="1"/>
<line x1="283.7" y1="224.4" x2="283.7" y2="227.4" stroke="#000" stroke-width="1"/>
<line x1="305.3" y1="224.4" x2="305.3" y2="227.4" stroke="#000" stroke-width="1"/>
<line x1="326.3" y1="224.4" x2="326.3" y2="227.4" stroke="#000" stroke-width="1"/>
<line x1="346.8" y1="224.4" x2="346.8" y2="227.4" stroke="#000" stroke-width="1"/>
<line x1="311.62" y1="224.4" x2="311.62" y2="226.2" stroke="#000" stroke-width="0.8"/>
<line x1="315.32" y1="224.4" x2="315.32" y2="226.2" stroke="#000" stroke-width="0.8"/>
<line x1="317.94" y1="224.4" x2="317.94" y2="226.2" stroke="#000" stroke-width="0.8"/>
<line x1="319.98" y1="224.4" x2="319.98" y2="226.2" stroke="#000" stroke-width="0.8"/>
<line x1="321.64" y1="224.4" x2="321.64" y2="226.2" stroke="#000" stroke-width="0.8"/>
<line x1="323.05" y1="224.4" x2="323.05" y2="226.2" stroke="#000" stroke-width="0.8"/>
<line x1="324.26" y1="224.4" x2="324.26" y2="226.2" stroke="#000" stroke-width="0.8"/>
<line x1="325.34" y1="224.4" x2="325.34" y2="226.2" stroke="#000" stroke-width="0.8"/>
<line x1="332.47" y1="224.4" x2="332.47" y2="226.2" stroke="#000" stroke-width="0.8"/>
<line x1="336.08" y1="224.4" x2="336.08" y2="226.2" stroke="#000" stroke-width="0.8"/>
<line x1="338.64" y1="224.4" x2="338.64" y2="226.2" stroke="#000" stroke-width="0.8"/>
<line x1="340.63" y1="224.4" x2="340.63" y2="226.2" stroke="#000" stroke-width="0.8"/>
<line x1="342.25" y1="224.4" x2="342.25" y2="226.2" stroke="#000" stroke-width="0.8"/>
<line x1="343.62" y1="224.4" x2="343.62" y2="226.2" stroke="#000" stroke-width="0.8"/>
<line x1="344.81" y1="224.4" x2="344.81" y2="226.2" stroke="#000" stroke-width="0.8"/>
<line x1="345.86" y1="224.4" x2="345.86" y2="226.2" stroke="#000" stroke-width="0.8"/>
<line x1="266.3" y1="224.4" x2="266.3" y2="226.2" stroke="#000" stroke-width="0.8"/>
<line x1="268.3" y1="224.4" x2="268.3" y2="226.2" stroke="#000" stroke-width="0.8"/>
<line x1="270.3" y1="224.4" x2="270.3" y2="226.2" stroke="#000" stroke-width="0.8"/>
<line x1="272.1" y1="224.4" x2="272.1" y2="226.2" stroke="#000" stroke-width="0.8"/>
<line x1="275.8" y1="224.4" x2="275.8" y2="226.2" stroke="#000" stroke-width="0.8"/>
<line x1="277.8" y1="224.4" x2="277.8" y2="226.2" stroke="#000" stroke-width="0.8"/>
<line x1="279.8" y1="224.4" x2="279.8" y2="226.2" stroke="#000" stroke-width="0.8"/>
<line x1="281.8" y1="224.4" x2="281.8" y2="226.2" stroke="#000" stroke-width="0.8"/>
<line x1="286.8" y1="224.4" x2="286.8" y2="226.2" stroke="#000" stroke-width="0.8"/>
<line x1="291.8" y1="224.4" x2="291.8" y2="226.2" stroke="#000" stroke-width="0.8"/>
<line x1="295.8" y1="224.4" x2="295.8" y2="226.2" stroke="#000" stroke-width="0.8"/>
<line x1="298.8" y1="224.4" x2="298.8" y2="226.2" stroke="#000" stroke-width="0.8"/>
<line x1="301.3" y1="224.4" x2="301.3" y2="226.2" stroke="#000" stroke-width="0.8"/>
<line x1="303.3" y1="224.4" x2="303.3" y2="226.2" stroke="#000" stroke-width="0.8"/>
<text x="271.05" y="234.44" font-size="5.93" stroke="#231f20" textLength="3.49" lengthAdjust="spacingAndGlyphs">0</text>
<text x="277.37" y="234.44" font-size="5.93" stroke="#231f20" textLength="7.7" lengthAdjust="spacingAndGlyphs">10</text>
<text x="285.06" y="232.26" font-size="3.31" stroke="#231f20" textLength="2.15" lengthAdjust="spacingAndGlyphs">2</text>
<text x="299.2" y="234.44" font-size="5.93" stroke="#231f20" textLength="7.25" lengthAdjust="spacingAndGlyphs">10</text>
<text x="306.51" y="232.23" font-size="3.26" stroke="#231f20" textLength="2.07" lengthAdjust="spacingAndGlyphs">3</text>
<text x="320.5" y="234.44" font-size="5.93" stroke="#231f20" textLength="7.25" lengthAdjust="spacingAndGlyphs">10</text>
<text x="327.87" y="232.26" font-size="3.36" stroke="#231f20" textLength="1.95" lengthAdjust="spacingAndGlyphs">4</text>
<text x="340.3" y="234.44" font-size="5.93" stroke="#231f20" textLength="7.25" lengthAdjust="spacingAndGlyphs">10</text>
<text x="347.6" y="232.23" font-size="3.31" stroke="#231f20" textLength="2.07" lengthAdjust="spacingAndGlyphs">5</text>
<text x="297.67" y="245.93" font-size="7.35" stroke="#231f20" textLength="23.88" lengthAdjust="spacingAndGlyphs">Hoechst</text>
<path d="M265.5,224.1 L302.8,224.1 L302.9,223.43 L303,222.77 L303.1,222.1 L303.2,221.43 L303.3,220.77 L303.4,220.1 L303.5,219.63 L303.6,219.15 L303.7,218.62 L303.8,217.98 L303.9,217.15 L304,216 L304.1,214.38 L304.2,212.19 L304.3,209.33 L304.4,205.8 L304.5,201.68 L304.6,197.41 L304.7,192.76 L304.8,187.78 L304.9,182.5 L305,176.88 L305.1,170.92 L305.2,164.63 L305.3,158.19 L305.4,151.89 L305.5,146.18 L305.6,141.57 L305.7,138.53 L305.8,137.4 L305.9,138.27 L306,140.98 L306.1,145.12 L306.2,150.16 L306.3,155.52 L306.4,160.72 L306.5,165.44 L306.6,169.54 L306.7,173.08 L306.8,176.19 L306.9,179.11 L307,182.03 L307.1,185.13 L307.2,188.47 L307.3,192.03 L307.4,195.69 L307.5,199.27 L307.6,202.79 L307.7,205.83 L307.8,208.29 L307.9,210.12 L308,211.39 L308.1,212.22 L308.2,212.72 L308.3,213.04 L308.4,213.24 L308.5,213.4 L308.6,213.54 L308.7,213.68 L308.8,213.81 L308.9,213.94 L309,214.06 L309.1,214.19 L309.2,214.31 L309.3,214.42 L309.4,214.51 L309.5,214.61 L309.6,214.69 L309.7,214.72 L309.8,214.7 L309.9,214.61 L310,214.43 L310.1,214.15 L310.2,213.74 L310.3,213.2 L310.4,212.52 L310.5,211.7 L310.6,210.74 L310.7,209.65 L310.8,208.46 L310.9,207.19 L311,205.85 L311.1,204.44 L311.2,203 L311.3,201.56 L311.4,200.12 L311.5,198.69 L311.6,197.29 L311.7,195.95 L311.8,194.69 L311.9,193.55 L312,192.58 L312.1,191.84 L312.2,191.39 L312.3,191.26 L312.4,191.5 L312.5,192.13 L312.6,193.14 L312.7,194.51 L312.8,196.2 L312.9,198.14 L313,200.26 L313.1,202.49 L313.2,204.75 L313.3,206.96 L313.4,209.07 L313.5,211.03 L313.6,212.8 L313.7,214.37 L313.8,215.74 L313.9,216.9 L314,217.87 L314.1,218.67 L314.2,219.33 L314.3,219.76 L314.4,220.08 L314.5,220.33 L314.6,220.51 L314.7,220.64 L314.8,220.74 L314.9,220.81 L315,220.87 L315.1,220.91 L315.2,220.94 L315.3,220.97 L315.4,220.99 L315.5,221.01 L315.6,221.02 L315.7,221.04 L315.8,221.05 L315.9,221.05 L316,221.05 L316.1,221.05 L316.2,221.03 L316.3,221 L316.4,220.94 L316.5,220.87 L316.6,220.76 L316.7,220.62 L316.8,220.43 L316.9,220.19 L317,219.9 L317.1,219.55 L317.2,219.13 L317.3,218.66 L317.4,218.13 L317.5,217.55 L317.6,216.95 L317.7,216.34 L317.8,215.74 L317.9,215.17 L318,214.67 L318.1,214.25 L318.2,213.94 L318.3,213.75 L318.4,213.7 L318.5,213.79 L318.6,214.01 L318.7,214.35 L318.8,214.8 L318.9,215.34 L319,215.94 L319.1,216.57 L319.2,217.22 L319.3,217.85 L319.4,218.46 L319.5,219.02 L319.6,219.53 L319.7,219.98 L319.8,220.37 L319.9,220.69 L320,220.97 L320.1,221.19 L320.2,221.36 L320.3,221.5 L320.4,221.61 L320.5,221.7 L320.6,221.76 L320.7,221.81 L320.8,221.85 L320.9,221.89 L321,221.91 L321.1,221.94 L321.2,221.96 L321.3,221.97 L321.4,221.99 L321.5,222 L321.6,222.01 L321.7,222.02 L321.8,222.02 L321.9,222.02 L322,222.01 L322.1,221.98 L322.2,221.95 L322.3,221.9 L322.4,221.83 L322.5,221.74 L322.6,221.63 L322.7,221.49 L322.8,221.33 L322.9,221.13 L323,220.91 L323.1,220.66 L323.2,220.39 L323.3,220.1 L323.4,219.81 L323.5,219.51 L323.6,219.22 L323.7,218.96 L323.8,218.73 L323.9,218.54 L324,218.4 L324.1,218.32 L324.2,218.3 L324.3,218.35 L324.4,218.46 L324.5,218.63 L324.6,218.85 L324.7,219.11 L324.8,219.4 L324.9,219.72 L325,220.05 L325.1,220.37 L325.2,220.69 L325.3,220.99 L325.4,221.27 L325.5,221.52 L325.6,221.75 L325.7,221.94 L325.8,222.11 L325.9,222.25 L326,222.37 L326.1,222.47 L326.2,222.55 L326.3,222.61 L326.4,222.67 L326.5,222.71 L326.6,222.74 L326.7,222.77 L326.8,222.8 L326.9,222.82 L327,222.84 L327.1,222.86 L327.2,222.87 L327.3,222.89 L327.4,222.9 L327.5,222.92 L327.6,222.93 L327.7,222.94 L327.8,222.95 L327.9,222.95 L328,222.95 L328.1,222.95 L328.2,222.94 L328.3,222.92 L328.4,222.89 L328.5,222.85 L328.6,222.8 L328.7,222.74 L328.8,222.66 L328.9,222.57 L329,222.46 L329.1,222.34 L329.2,222.21 L329.3,222.07 L329.4,221.93 L329.5,221.78 L329.6,221.64 L329.7,221.52 L329.8,221.4 L329.9,221.31 L330,221.25 L330.1,221.21 L330.2,221.2 L330.3,221.22 L330.4,221.28 L330.5,221.37 L330.6,221.48 L330.7,221.61 L330.8,221.76 L330.9,221.93 L331,222.09 L331.1,222.26 L331.2,222.42 L331.3,222.58 L331.4,222.72 L331.5,222.85 L331.6,222.96 L331.7,223.06 L331.8,223.15 L331.9,223.22 L332,223.28 L332.1,223.33 L332.2,223.37 L332.3,223.41 L332.4,223.43 L332.5,223.45 L332.6,223.47 L332.7,223.49 L332.8,223.5 L332.9,223.51 L333,223.52 L333.1,223.53 L333.2,223.54 L333.3,223.54 L333.4,223.55 L333.5,223.55 L333.6,223.56 L333.7,223.56 L333.8,223.56 L333.9,223.56 L334,223.56 L334.1,223.56 L334.2,223.55 L334.3,223.54 L334.4,223.52 L334.5,223.5 L334.6,223.47 L334.7,223.44 L334.8,223.41 L334.9,223.37 L335,223.33 L335.1,223.29 L335.2,223.25 L335.3,223.21 L335.4,223.18 L335.5,223.15 L335.6,223.12 L335.7,223.1 L335.8,223.1 L335.9,223.1 L336,223.11 L336.1,223.13 L336.2,223.17 L336.3,223.21 L336.4,223.25 L336.5,223.3 L336.6,223.36 L336.7,223.41 L336.8,223.47 L336.9,223.52 L337,223.58 L337.1,223.62 L337.2,223.67 L337.3,223.71 L337.4,223.74 L337.5,223.78 L337.6,223.8 L337.7,223.83 L337.8,223.85 L337.9,223.86 L338,223.88 L338.1,223.89 L338.2,223.9 L338.3,223.91 L338.4,223.92 L338.5,223.92 L338.6,223.93 L338.7,223.93 L338.8,223.94 L338.9,223.94 L339,223.95 L339.1,223.95 L339.2,223.96 L339.3,223.96 L339.4,223.97 L339.5,223.97 L339.6,223.98 L339.7,223.98 L339.8,223.99 L339.9,223.99 L340,224 L340.1,224 L340.2,224.01 L340.3,224.01 L340.4,224.02 L340.5,224.02 L340.6,224.03 L340.7,224.03 L340.8,224.04 L340.9,224.04 L341,224.05 L341.1,224.05 L341.2,224.06 L341.3,224.06 L341.4,224.07 L341.5,224.07 L341.6,224.08 L341.7,224.08 L354.9,224.1" stroke="#c8001a" stroke-width="1.6" fill="none" stroke-linejoin="round"/>
<text x="266.77" y="144.62" font-size="8.33" fill="#c8001a" stroke="#c8001a" textLength="32.41" lengthAdjust="spacingAndGlyphs">GSK343</text>
<line x1="396.9" y1="140" x2="396.9" y2="222.6" stroke="#000" stroke-width="1.3"/>
<line x1="393.6" y1="140.4" x2="396.9" y2="140.4" stroke="#000" stroke-width="1.1"/>
<text x="381.8" y="142.73" font-size="7.63" stroke="#231f20" textLength="9.02" lengthAdjust="spacingAndGlyphs">10</text>
<line x1="393.6" y1="156.8" x2="396.9" y2="156.8" stroke="#000" stroke-width="1.1"/>
<text x="385.36" y="159.13" font-size="7.63" stroke="#231f20" textLength="5.57" lengthAdjust="spacingAndGlyphs">8</text>
<line x1="393.6" y1="173.2" x2="396.9" y2="173.2" stroke="#000" stroke-width="1.1"/>
<text x="385.28" y="175.53" font-size="7.63" stroke="#231f20" textLength="5.66" lengthAdjust="spacingAndGlyphs">6</text>
<line x1="393.6" y1="189.6" x2="396.9" y2="189.6" stroke="#000" stroke-width="1.1"/>
<text x="385.59" y="192" font-size="7.85" stroke="#231f20" textLength="5.19" lengthAdjust="spacingAndGlyphs">4</text>
<line x1="393.6" y1="206" x2="396.9" y2="206" stroke="#000" stroke-width="1.1"/>
<text x="385.28" y="208.4" font-size="7.73" stroke="#231f20" textLength="5.74" lengthAdjust="spacingAndGlyphs">2</text>
<line x1="393.6" y1="222.4" x2="396.9" y2="222.4" stroke="#000" stroke-width="1.1"/>
<text x="385.42" y="224.73" font-size="7.63" stroke="#231f20" textLength="5.47" lengthAdjust="spacingAndGlyphs">0</text>
<line x1="396.3" y1="222.1" x2="476.8" y2="222.1" stroke="#000" stroke-width="1.4"/>
<line x1="414.4" y1="222" x2="414.4" y2="225.6" stroke="#000" stroke-width="1.1"/>
<line x1="436.8" y1="222" x2="436.8" y2="225.6" stroke="#000" stroke-width="1.1"/>
<line x1="459.3" y1="222" x2="459.3" y2="225.6" stroke="#000" stroke-width="1.1"/>
<rect x="406" y="146.5" width="16.9" height="75.6" fill="#0a33a3"/>
<rect x="428.6" y="190.7" width="16.9" height="31.4" fill="#ff7b00"/>
<rect x="451.2" y="186.3" width="16.8" height="35.8" fill="#c8001a"/>
<text x="376.18" y="204.19" font-size="11.16" stroke="#231f20" textLength="45.41" lengthAdjust="spacingAndGlyphs" transform="rotate(-90 376.18 204.19)">Mean ploidy</text>
<rect x="455" y="138.75" width="7.9" height="6" fill="#0a33a3"/>
<text x="466.58" y="144.72" font-size="7.91" stroke="#231f20" textLength="15.49" lengthAdjust="spacingAndGlyphs">CTL</text>
<rect x="455" y="150.6" width="7.9" height="5.9" fill="#ff7b00"/>
<text x="466.58" y="155.72" font-size="8.47" stroke="#231f20" textLength="31.79" lengthAdjust="spacingAndGlyphs">GSK126</text>
<rect x="455" y="162.1" width="7.9" height="5.8" fill="#c8001a"/>
<text x="466.58" y="167.11" font-size="8.76" stroke="#231f20" textLength="31.59" lengthAdjust="spacingAndGlyphs">GSK343</text>
<text x="7.12" y="192.17" font-size="13.14" font-weight="bold" fill="#000" stroke="#000" textLength="8.51" lengthAdjust="spacingAndGlyphs">C</text>
<line x1="57.1" y1="197.2" x2="57.1" y2="294.8" stroke="#000" stroke-width="1.3"/>
<line x1="53.2" y1="197.8" x2="57.1" y2="197.8" stroke="#000" stroke-width="1.1"/>
<text x="45.65" y="200.41" font-size="8.76" stroke="#231f20" textLength="5.16" lengthAdjust="spacingAndGlyphs">3</text>
<line x1="53.2" y1="230" x2="57.1" y2="230" stroke="#000" stroke-width="1.1"/>
<text x="45.51" y="232.7" font-size="8.88" stroke="#231f20" textLength="5.37" lengthAdjust="spacingAndGlyphs">2</text>
<line x1="53.2" y1="262.2" x2="57.1" y2="262.2" stroke="#000" stroke-width="1.1"/>
<text x="45.93" y="264.9" font-size="9.01" stroke="#231f20" textLength="4.9" lengthAdjust="spacingAndGlyphs">1</text>
<line x1="53.2" y1="294.3" x2="57.1" y2="294.3" stroke="#000" stroke-width="1.1"/>
<text x="45.64" y="296.91" font-size="8.76" stroke="#231f20" textLength="5.12" lengthAdjust="spacingAndGlyphs">0</text>
<line x1="56.5" y1="294.2" x2="201.4" y2="294.2" stroke="#000" stroke-width="1.4"/>
<line x1="73.4" y1="294.2" x2="73.4" y2="297.8" stroke="#000" stroke-width="1.1"/>
<line x1="110.6" y1="294.2" x2="110.6" y2="297.8" stroke="#000" stroke-width="1.1"/>
<line x1="147.6" y1="294.2" x2="147.6" y2="297.8" stroke="#000" stroke-width="1.1"/>
<line x1="184.9" y1="294.2" x2="184.9" y2="297.8" stroke="#000" stroke-width="1.1"/>
<rect x="62.5" y="263.1" width="8.4" height="31.1" fill="#0a33a3"/>
<line x1="66.7" y1="258.5" x2="66.7" y2="265.6" stroke="#111" stroke-width="1.25"/>
<line x1="64.3" y1="258.5" x2="69.1" y2="258.5" stroke="#111" stroke-width="1.25"/>
<line x1="64.3" y1="265.6" x2="69.1" y2="265.6" stroke="#111" stroke-width="1.25"/>
<rect x="76.2" y="282.6" width="8.4" height="11.6" fill="#c8001a"/>
<line x1="80.4" y1="280.5" x2="80.4" y2="284.6" stroke="#111" stroke-width="1.25"/>
<line x1="78" y1="280.5" x2="82.8" y2="280.5" stroke="#111" stroke-width="1.25"/>
<line x1="78" y1="284.6" x2="82.8" y2="284.6" stroke="#111" stroke-width="1.25"/>
<rect x="99.6" y="263.1" width="8.2" height="31.1" fill="#0a33a3"/>
<line x1="103.7" y1="255.6" x2="103.7" y2="267.6" stroke="#111" stroke-width="1.25"/>
<line x1="101.3" y1="255.6" x2="106.1" y2="255.6" stroke="#111" stroke-width="1.25"/>
<line x1="101.3" y1="267.6" x2="106.1" y2="267.6" stroke="#111" stroke-width="1.25"/>
<rect x="113.5" y="207.2" width="8.5" height="87" fill="#c8001a"/>
<line x1="117.75" y1="203.1" x2="117.75" y2="209.6" stroke="#111" stroke-width="1.25"/>
<line x1="115.35" y1="203.1" x2="120.15" y2="203.1" stroke="#111" stroke-width="1.25"/>
<line x1="115.35" y1="209.6" x2="120.15" y2="209.6" stroke="#111" stroke-width="1.25"/>
<rect x="136.5" y="262.9" width="8.5" height="31.3" fill="#0a33a3"/>
<line x1="140.75" y1="255.5" x2="140.75" y2="267" stroke="#111" stroke-width="1.25"/>
<line x1="138.35" y1="255.5" x2="143.15" y2="255.5" stroke="#111" stroke-width="1.25"/>
<line x1="138.35" y1="267" x2="143.15" y2="267" stroke="#111" stroke-width="1.25"/>
<rect x="150.4" y="274.3" width="8.5" height="19.9" fill="#c8001a"/>
<line x1="154.65" y1="272.6" x2="154.65" y2="276" stroke="#111" stroke-width="1.25"/>
<line x1="152.25" y1="272.6" x2="157.05" y2="272.6" stroke="#111" stroke-width="1.25"/>
<line x1="152.25" y1="276" x2="157.05" y2="276" stroke="#111" stroke-width="1.25"/>
<rect x="173.8" y="262.9" width="8.5" height="31.3" fill="#0a33a3"/>
<line x1="178.05" y1="258.5" x2="178.05" y2="265.3" stroke="#111" stroke-width="1.25"/>
<line x1="175.65" y1="258.5" x2="180.45" y2="258.5" stroke="#111" stroke-width="1.25"/>
<line x1="175.65" y1="265.3" x2="180.45" y2="265.3" stroke="#111" stroke-width="1.25"/>
<rect x="187.7" y="279.7" width="8.5" height="14.5" fill="#c8001a"/>
<line x1="191.95" y1="278.3" x2="191.95" y2="281.1" stroke="#111" stroke-width="1.25"/>
<line x1="189.55" y1="278.3" x2="194.35" y2="278.3" stroke="#111" stroke-width="1.25"/>
<line x1="189.55" y1="281.1" x2="194.35" y2="281.1" stroke="#111" stroke-width="1.25"/>
<text x="59.34" y="307.32" font-size="8.47" stroke="#231f20" textLength="27.46" lengthAdjust="spacingAndGlyphs">MCM5</text>
<text x="92.45" y="307.32" font-size="8.47" stroke="#231f20" textLength="35.56" lengthAdjust="spacingAndGlyphs">CDKN1A</text>
<text x="135.57" y="307.32" font-size="8.47" stroke="#231f20" textLength="24.75" lengthAdjust="spacingAndGlyphs">PCNA</text>
<text x="170.82" y="307.32" font-size="8.47" stroke="#231f20" textLength="27.49" lengthAdjust="spacingAndGlyphs">XRCC2</text>
<text x="123.96" y="194.2" font-size="10.61" stroke="#231f20" textLength="9.56" lengthAdjust="spacingAndGlyphs">#1</text>
<rect x="168.1" y="195.6" width="10.8" height="5.9" fill="#0a33a3"/>
<text x="183.33" y="201.32" font-size="8.19" stroke="#231f20" textLength="15.65" lengthAdjust="spacingAndGlyphs">CTL</text>
<rect x="168.1" y="207.4" width="10.8" height="6.3" fill="#c8001a"/>
<text x="183.23" y="213.41" font-size="8.9" stroke="#231f20" textLength="31.74" lengthAdjust="spacingAndGlyphs">GSK343</text>
<text x="37.44" y="296.25" font-size="8.48" stroke="#231f20" textLength="100.67" lengthAdjust="spacingAndGlyphs" transform="rotate(-90 37.44 296.25)">Fold change relative to PPIA</text>
<line x1="64.4" y1="330.7" x2="64.4" y2="428.2" stroke="#000" stroke-width="1.3"/>
<line x1="60.5" y1="331" x2="64.4" y2="331" stroke="#000" stroke-width="1.1"/>
<text x="45.64" y="333.61" font-size="8.76" stroke="#231f20" textLength="12.82" lengthAdjust="spacingAndGlyphs">2.0</text>
<line x1="60.5" y1="355.2" x2="64.4" y2="355.2" stroke="#000" stroke-width="1.1"/>
<text x="46.02" y="357.81" font-size="8.89" stroke="#231f20" textLength="12.46" lengthAdjust="spacingAndGlyphs">1.5</text>
<line x1="60.5" y1="379.4" x2="64.4" y2="379.4" stroke="#000" stroke-width="1.1"/>
<text x="46.02" y="382.01" font-size="8.76" stroke="#231f20" textLength="12.43" lengthAdjust="spacingAndGlyphs">1.0</text>
<line x1="60.5" y1="403.6" x2="64.4" y2="403.6" stroke="#000" stroke-width="1.1"/>
<text x="45.74" y="406.21" font-size="8.76" stroke="#231f20" textLength="12.74" lengthAdjust="spacingAndGlyphs">0.5</text>
<line x1="60.5" y1="427.8" x2="64.4" y2="427.8" stroke="#000" stroke-width="1.1"/>
<text x="45.74" y="430.41" font-size="8.76" stroke="#231f20" textLength="12.71" lengthAdjust="spacingAndGlyphs">0.0</text>
<line x1="63.8" y1="427.6" x2="209.2" y2="427.6" stroke="#000" stroke-width="1.4"/>
<line x1="80.8" y1="427.6" x2="80.8" y2="431.2" stroke="#000" stroke-width="1.1"/>
<line x1="118.1" y1="427.6" x2="118.1" y2="431.2" stroke="#000" stroke-width="1.1"/>
<line x1="155.4" y1="427.6" x2="155.4" y2="431.2" stroke="#000" stroke-width="1.1"/>
<line x1="192.8" y1="427.6" x2="192.8" y2="431.2" stroke="#000" stroke-width="1.1"/>
<rect x="70" y="380" width="8" height="47.6" fill="#0a33a3"/>
<line x1="74" y1="371.2" x2="74" y2="386.5" stroke="#111" stroke-width="1.25"/>
<line x1="71.6" y1="371.2" x2="76.4" y2="371.2" stroke="#111" stroke-width="1.25"/>
<line x1="71.6" y1="386.5" x2="76.4" y2="386.5" stroke="#111" stroke-width="1.25"/>
<rect x="83.8" y="403.8" width="8.2" height="23.8" fill="#c8001a"/>
<line x1="87.9" y1="398.2" x2="87.9" y2="406.2" stroke="#111" stroke-width="1.25"/>
<line x1="85.5" y1="398.2" x2="90.3" y2="398.2" stroke="#111" stroke-width="1.25"/>
<line x1="85.5" y1="406.2" x2="90.3" y2="406.2" stroke="#111" stroke-width="1.25"/>
<rect x="106.9" y="380" width="8" height="47.6" fill="#0a33a3"/>
<line x1="110.9" y1="369.7" x2="110.9" y2="387.7" stroke="#111" stroke-width="1.25"/>
<line x1="108.5" y1="369.7" x2="113.3" y2="369.7" stroke="#111" stroke-width="1.25"/>
<line x1="108.5" y1="387.7" x2="113.3" y2="387.7" stroke="#111" stroke-width="1.25"/>
<rect x="121.1" y="358.3" width="7.8" height="69.3" fill="#c8001a"/>
<line x1="125" y1="355.4" x2="125" y2="361.2" stroke="#111" stroke-width="1.25"/>
<line x1="122.6" y1="355.4" x2="127.4" y2="355.4" stroke="#111" stroke-width="1.25"/>
<line x1="122.6" y1="361.2" x2="127.4" y2="361.2" stroke="#111" stroke-width="1.25"/>
<rect x="144" y="380" width="8.1" height="47.6" fill="#0a33a3"/>
<line x1="148.05" y1="370" x2="148.05" y2="388" stroke="#111" stroke-width="1.25"/>
<line x1="145.65" y1="370" x2="150.45" y2="370" stroke="#111" stroke-width="1.25"/>
<line x1="145.65" y1="388" x2="150.45" y2="388" stroke="#111" stroke-width="1.25"/>
<rect x="158" y="406.3" width="8.1" height="21.3" fill="#c8001a"/>
<line x1="162.05" y1="400.8" x2="162.05" y2="409.2" stroke="#111" stroke-width="1.25"/>
<line x1="159.65" y1="400.8" x2="164.45" y2="400.8" stroke="#111" stroke-width="1.25"/>
<line x1="159.65" y1="409.2" x2="164.45" y2="409.2" stroke="#111" stroke-width="1.25"/>
<rect x="181.5" y="380" width="8.1" height="47.6" fill="#0a33a3"/>
<line x1="185.55" y1="370.5" x2="185.55" y2="386.8" stroke="#111" stroke-width="1.25"/>
<line x1="183.15" y1="370.5" x2="187.95" y2="370.5" stroke="#111" stroke-width="1.25"/>
<line x1="183.15" y1="386.8" x2="187.95" y2="386.8" stroke="#111" stroke-width="1.25"/>
<rect x="195.4" y="419.8" width="8.2" height="7.8" fill="#c8001a"/>
<line x1="199.5" y1="417.8" x2="199.5" y2="420.2" stroke="#111" stroke-width="1.25"/>
<line x1="197.1" y1="417.8" x2="201.9" y2="417.8" stroke="#111" stroke-width="1.25"/>
<line x1="197.1" y1="420.2" x2="201.9" y2="420.2" stroke="#111" stroke-width="1.25"/>
<text x="66.74" y="440.32" font-size="8.19" stroke="#231f20" textLength="27.46" lengthAdjust="spacingAndGlyphs">MCM5</text>
<text x="99.95" y="440.32" font-size="8.19" stroke="#231f20" textLength="35.56" lengthAdjust="spacingAndGlyphs">CDKN1A</text>
<text x="143.37" y="440.32" font-size="8.19" stroke="#231f20" textLength="24.75" lengthAdjust="spacingAndGlyphs">PCNA</text>
<text x="178.72" y="440.32" font-size="8.19" stroke="#231f20" textLength="27.49" lengthAdjust="spacingAndGlyphs">XRCC2</text>
<text x="131.45" y="329.9" font-size="9.31" stroke="#231f20" textLength="11.46" lengthAdjust="spacingAndGlyphs">#2</text>
<rect x="175.5" y="330" width="10.8" height="5.9" fill="#0a33a3"/>
<text x="190.67" y="335.82" font-size="8.33" stroke="#231f20" textLength="15.91" lengthAdjust="spacingAndGlyphs">CTL</text>
<rect x="175.5" y="341.8" width="10.8" height="6.3" fill="#c8001a"/>
<text x="190.68" y="347.81" font-size="9.04" stroke="#231f20" textLength="31.9" lengthAdjust="spacingAndGlyphs">GSK126</text>
<text x="37.72" y="429.05" font-size="8.58" stroke="#231f20" textLength="100.57" lengthAdjust="spacingAndGlyphs" transform="rotate(-90 37.72 429.05)">Fold change relative to PPIA</text>
<text x="310.84" y="294.9" font-size="12.65" font-weight="bold" fill="#000" stroke="#000" textLength="10.36" lengthAdjust="spacingAndGlyphs">D</text>
<line x1="349.8" y1="308.2" x2="349.8" y2="424.3" stroke="#000" stroke-width="1.3"/>
<line x1="346.3" y1="308.6" x2="349.8" y2="308.6" stroke="#000" stroke-width="1.1"/>
<text x="331.54" y="311.01" font-size="9.17" stroke="#231f20" textLength="12.13" lengthAdjust="spacingAndGlyphs">1.5</text>
<line x1="346.3" y1="346.7" x2="349.8" y2="346.7" stroke="#000" stroke-width="1.1"/>
<text x="331.54" y="349.11" font-size="9.04" stroke="#231f20" textLength="12.1" lengthAdjust="spacingAndGlyphs">1.0</text>
<line x1="346.3" y1="385.3" x2="349.8" y2="385.3" stroke="#000" stroke-width="1.1"/>
<text x="331.15" y="387.71" font-size="9.04" stroke="#231f20" textLength="12.53" lengthAdjust="spacingAndGlyphs">0.5</text>
<line x1="346.3" y1="423.8" x2="349.8" y2="423.8" stroke="#000" stroke-width="1.1"/>
<text x="331.15" y="426.21" font-size="9.04" stroke="#231f20" textLength="12.5" lengthAdjust="spacingAndGlyphs">0.0</text>
<line x1="349.2" y1="423.8" x2="436.2" y2="423.8" stroke="#000" stroke-width="1.4"/>
<line x1="364.4" y1="423.8" x2="364.4" y2="427.6" stroke="#000" stroke-width="1.1"/>
<line x1="393.3" y1="423.8" x2="393.3" y2="427.6" stroke="#000" stroke-width="1.1"/>
<line x1="422.3" y1="423.8" x2="422.3" y2="427.6" stroke="#000" stroke-width="1.1"/>
<text x="326.09" y="407.96" font-size="11.44" stroke="#231f20" textLength="82.58" lengthAdjust="spacingAndGlyphs" transform="rotate(-90 326.09 407.96)">Relative PPT formation</text>
<line x1="365.6" y1="319.7" x2="423.7" y2="319.7" stroke="#333" stroke-width="1.4"/>
<polygon points="394.5,312.5 395,313.71 396.31,313.81 395.31,314.66 395.62,315.94 394.5,315.25 393.38,315.94 393.69,314.66 392.69,313.81 394,313.71" fill="#111"/>
<line x1="365" y1="338.8" x2="394.9" y2="338.8" stroke="#333" stroke-width="1.4"/>
<polygon points="379.2,332.2 379.7,333.41 381.01,333.51 380.01,334.36 380.32,335.64 379.2,334.95 378.08,335.64 378.39,334.36 377.39,333.51 378.7,333.41" fill="#111"/>
<circle cx="359.8" cy="346.9" r="2.1" fill="#0a33a3"/>
<circle cx="364.1" cy="346.9" r="2.1" fill="#0a33a3"/>
<circle cx="368.4" cy="346.9" r="2.1" fill="#0a33a3"/>
<line x1="355" y1="346.8" x2="374" y2="346.8" stroke="#000" stroke-width="1.5"/>
<line x1="393.4" y1="381" x2="393.4" y2="403.8" stroke="#ff7b00" stroke-width="1.3"/>
<line x1="388.1" y1="381" x2="398.7" y2="381" stroke="#ff7b00" stroke-width="1.3"/>
<line x1="388.1" y1="403.8" x2="398.7" y2="403.8" stroke="#ff7b00" stroke-width="1.3"/>
<rect x="391.4" y="370.6" width="4.2" height="4.2" fill="#ff7b00"/>
<rect x="391.4" y="390.4" width="4.2" height="4.2" fill="#ff7b00"/>
<rect x="391.4" y="410.4" width="4.2" height="4.2" fill="#ff7b00"/>
<line x1="383.8" y1="392.5" x2="403.1" y2="392.5" stroke="#000" stroke-width="1.5"/>
<line x1="422.4" y1="395.2" x2="422.4" y2="415.6" stroke="#c8001a" stroke-width="1.3"/>
<line x1="417" y1="395.2" x2="427.8" y2="395.2" stroke="#c8001a" stroke-width="1.3"/>
<line x1="417" y1="415.6" x2="427.8" y2="415.6" stroke="#c8001a" stroke-width="1.3"/>
<polygon points="422.3,387.01 419.9,391.33 424.7,391.33" fill="#c8001a"/>
<polygon points="422.3,401.71 419.9,406.03 424.7,406.03" fill="#c8001a"/>
<polygon points="422.3,421.81 419.9,426.13 424.7,426.13" fill="#c8001a"/>
<line x1="413" y1="405.4" x2="432" y2="405.4" stroke="#000" stroke-width="1.5"/>
<circle cx="439" cy="324.6" r="2.3" fill="#0a33a3"/>
<text x="444.68" y="327.22" font-size="8.19" stroke="#231f20" textLength="15.7" lengthAdjust="spacingAndGlyphs">CTL</text>
<rect x="437.1" y="334.3" width="4" height="4" fill="#ff7b00"/>
<text x="444.68" y="338.41" font-size="8.9" stroke="#231f20" textLength="31.28" lengthAdjust="spacingAndGlyphs">GSK126</text>
<polygon points="438.9,344.71 436.5,349.03 441.3,349.03" fill="#c8001a"/>
<text x="444.68" y="349.31" font-size="8.76" stroke="#231f20" textLength="31.28" lengthAdjust="spacingAndGlyphs">GSK343</text>
<text x="7.08" y="459.9" font-size="13.08" font-weight="bold" fill="#000" stroke="#000" textLength="8.2" lengthAdjust="spacingAndGlyphs">E</text>
<text x="17.13" y="476.3" font-size="12.7" font-weight="bold" fill="#000" stroke="#000" textLength="5.06" lengthAdjust="spacingAndGlyphs">i</text>
<rect x="24.1" y="484.1" width="102.9" height="101.4" fill="none" stroke="#000" stroke-width="1.5"/>
<line x1="21.8" y1="585.6" x2="24.1" y2="585.6" stroke="#000" stroke-width="1"/>
<line x1="21.8" y1="580.81" x2="24.1" y2="580.81" stroke="#000" stroke-width="1"/>
<line x1="21.8" y1="576.02" x2="24.1" y2="576.02" stroke="#000" stroke-width="1"/>
<line x1="21.8" y1="571.23" x2="24.1" y2="571.23" stroke="#000" stroke-width="1"/>
<line x1="21.8" y1="566.44" x2="24.1" y2="566.44" stroke="#000" stroke-width="1"/>
<line x1="21.8" y1="561.65" x2="24.1" y2="561.65" stroke="#000" stroke-width="1"/>
<line x1="21.8" y1="556.86" x2="24.1" y2="556.86" stroke="#000" stroke-width="1"/>
<line x1="21.8" y1="552.07" x2="24.1" y2="552.07" stroke="#000" stroke-width="1"/>
<line x1="21.8" y1="547.28" x2="24.1" y2="547.28" stroke="#000" stroke-width="1"/>
<line x1="21.8" y1="542.49" x2="24.1" y2="542.49" stroke="#000" stroke-width="1"/>
<line x1="21.8" y1="537.7" x2="24.1" y2="537.7" stroke="#000" stroke-width="1"/>
<line x1="21.8" y1="532.91" x2="24.1" y2="532.91" stroke="#000" stroke-width="1"/>
<line x1="21.8" y1="528.12" x2="24.1" y2="528.12" stroke="#000" stroke-width="1"/>
<line x1="21.8" y1="523.33" x2="24.1" y2="523.33" stroke="#000" stroke-width="1"/>
<line x1="21.8" y1="518.54" x2="24.1" y2="518.54" stroke="#000" stroke-width="1"/>
<line x1="21.8" y1="513.75" x2="24.1" y2="513.75" stroke="#000" stroke-width="1"/>
<line x1="21.8" y1="508.96" x2="24.1" y2="508.96" stroke="#000" stroke-width="1"/>
<line x1="21.8" y1="504.17" x2="24.1" y2="504.17" stroke="#000" stroke-width="1"/>
<line x1="21.8" y1="499.38" x2="24.1" y2="499.38" stroke="#000" stroke-width="1"/>
<line x1="21.8" y1="494.59" x2="24.1" y2="494.59" stroke="#000" stroke-width="1"/>
<line x1="21.8" y1="489.8" x2="24.1" y2="489.8" stroke="#000" stroke-width="1"/>
<line x1="21.8" y1="485.01" x2="24.1" y2="485.01" stroke="#000" stroke-width="1"/>
<line x1="20.5" y1="489.45" x2="24.1" y2="489.45" stroke="#000" stroke-width="1.1"/>
<text x="7.22" y="491.48" font-size="7.06" stroke="#231f20" textLength="12.06" lengthAdjust="spacingAndGlyphs">500</text>
<line x1="20.5" y1="508.6" x2="24.1" y2="508.6" stroke="#000" stroke-width="1.1"/>
<text x="7.35" y="510.63" font-size="7.06" stroke="#231f20" textLength="11.93" lengthAdjust="spacingAndGlyphs">400</text>
<line x1="20.5" y1="527.8" x2="24.1" y2="527.8" stroke="#000" stroke-width="1.1"/>
<text x="7.24" y="529.83" font-size="7.06" stroke="#231f20" textLength="12.05" lengthAdjust="spacingAndGlyphs">300</text>
<line x1="20.5" y1="547.1" x2="24.1" y2="547.1" stroke="#000" stroke-width="1.1"/>
<text x="7.14" y="549.13" font-size="7.06" stroke="#231f20" textLength="12.14" lengthAdjust="spacingAndGlyphs">200</text>
<line x1="20.5" y1="566.4" x2="24.1" y2="566.4" stroke="#000" stroke-width="1.1"/>
<text x="8.07" y="568.43" font-size="7.06" stroke="#231f20" textLength="11.19" lengthAdjust="spacingAndGlyphs">100</text>
<line x1="20.5" y1="585.6" x2="24.1" y2="585.6" stroke="#000" stroke-width="1.1"/>
<text x="14.86" y="587.63" font-size="7.06" stroke="#231f20" textLength="4.46" lengthAdjust="spacingAndGlyphs">0</text>
<line x1="34" y1="585.5" x2="34" y2="588.5" stroke="#000" stroke-width="1"/>
<line x1="46" y1="585.5" x2="46" y2="588.5" stroke="#000" stroke-width="1"/>
<line x1="70.4" y1="585.5" x2="70.4" y2="588.5" stroke="#000" stroke-width="1"/>
<line x1="95.1" y1="585.5" x2="95.1" y2="588.5" stroke="#000" stroke-width="1"/>
<line x1="117.2" y1="585.5" x2="117.2" y2="588.5" stroke="#000" stroke-width="1"/>
<line x1="77.84" y1="585.5" x2="77.84" y2="587.3" stroke="#000" stroke-width="0.8"/>
<line x1="82.18" y1="585.5" x2="82.18" y2="587.3" stroke="#000" stroke-width="0.8"/>
<line x1="85.27" y1="585.5" x2="85.27" y2="587.3" stroke="#000" stroke-width="0.8"/>
<line x1="87.66" y1="585.5" x2="87.66" y2="587.3" stroke="#000" stroke-width="0.8"/>
<line x1="89.62" y1="585.5" x2="89.62" y2="587.3" stroke="#000" stroke-width="0.8"/>
<line x1="91.27" y1="585.5" x2="91.27" y2="587.3" stroke="#000" stroke-width="0.8"/>
<line x1="92.71" y1="585.5" x2="92.71" y2="587.3" stroke="#000" stroke-width="0.8"/>
<line x1="93.97" y1="585.5" x2="93.97" y2="587.3" stroke="#000" stroke-width="0.8"/>
<line x1="101.75" y1="585.5" x2="101.75" y2="587.3" stroke="#000" stroke-width="0.8"/>
<line x1="105.64" y1="585.5" x2="105.64" y2="587.3" stroke="#000" stroke-width="0.8"/>
<line x1="108.41" y1="585.5" x2="108.41" y2="587.3" stroke="#000" stroke-width="0.8"/>
<line x1="110.55" y1="585.5" x2="110.55" y2="587.3" stroke="#000" stroke-width="0.8"/>
<line x1="112.3" y1="585.5" x2="112.3" y2="587.3" stroke="#000" stroke-width="0.8"/>
<line x1="113.78" y1="585.5" x2="113.78" y2="587.3" stroke="#000" stroke-width="0.8"/>
<line x1="115.06" y1="585.5" x2="115.06" y2="587.3" stroke="#000" stroke-width="0.8"/>
<line x1="116.19" y1="585.5" x2="116.19" y2="587.3" stroke="#000" stroke-width="0.8"/>
<line x1="26.1" y1="585.5" x2="26.1" y2="587.3" stroke="#000" stroke-width="0.8"/>
<line x1="28.6" y1="585.5" x2="28.6" y2="587.3" stroke="#000" stroke-width="0.8"/>
<line x1="31.1" y1="585.5" x2="31.1" y2="587.3" stroke="#000" stroke-width="0.8"/>
<line x1="36.6" y1="585.5" x2="36.6" y2="587.3" stroke="#000" stroke-width="0.8"/>
<line x1="39.1" y1="585.5" x2="39.1" y2="587.3" stroke="#000" stroke-width="0.8"/>
<line x1="41.6" y1="585.5" x2="41.6" y2="587.3" stroke="#000" stroke-width="0.8"/>
<line x1="43.8" y1="585.5" x2="43.8" y2="587.3" stroke="#000" stroke-width="0.8"/>
<line x1="50.1" y1="585.5" x2="50.1" y2="587.3" stroke="#000" stroke-width="0.8"/>
<line x1="55.1" y1="585.5" x2="55.1" y2="587.3" stroke="#000" stroke-width="0.8"/>
<line x1="59.6" y1="585.5" x2="59.6" y2="587.3" stroke="#000" stroke-width="0.8"/>
<line x1="63.1" y1="585.5" x2="63.1" y2="587.3" stroke="#000" stroke-width="0.8"/>
<line x1="66.1" y1="585.5" x2="66.1" y2="587.3" stroke="#000" stroke-width="0.8"/>
<line x1="68.4" y1="585.5" x2="68.4" y2="587.3" stroke="#000" stroke-width="0.8"/>
<text x="33.03" y="595.83" font-size="6.78" stroke="#231f20" textLength="3.84" lengthAdjust="spacingAndGlyphs">0</text>
<text x="41.13" y="595.83" font-size="6.78" stroke="#231f20" textLength="6.92" lengthAdjust="spacingAndGlyphs">10</text>
<text x="48.03" y="593.39" font-size="3.78" stroke="#231f20" textLength="2.46" lengthAdjust="spacingAndGlyphs">2</text>
<text x="65.82" y="595.83" font-size="6.78" stroke="#231f20" textLength="7.03" lengthAdjust="spacingAndGlyphs">10</text>
<text x="72.89" y="593.35" font-size="3.73" stroke="#231f20" textLength="2.36" lengthAdjust="spacingAndGlyphs">3</text>
<text x="89.83" y="595.83" font-size="6.78" stroke="#231f20" textLength="6.92" lengthAdjust="spacingAndGlyphs">10</text>
<text x="96.86" y="593.39" font-size="3.84" stroke="#231f20" textLength="2.23" lengthAdjust="spacingAndGlyphs">4</text>
<text x="112.43" y="595.83" font-size="6.78" stroke="#231f20" textLength="6.8" lengthAdjust="spacingAndGlyphs">10</text>
<text x="119.28" y="593.35" font-size="3.78" stroke="#231f20" textLength="2.36" lengthAdjust="spacingAndGlyphs">5</text>
<text x="54.26" y="480.51" font-size="9.26" stroke="#231f20" textLength="43.2" lengthAdjust="spacingAndGlyphs">WT+vehicle</text>
<path d="M24.8,584.6 L56,584.6 L56.2,584.46 L56.4,584.32 L56.6,584.17 L56.8,584.01 L57,583.84 L57.2,583.63 L57.4,583.38 L57.6,583.07 L57.8,582.66 L58,582.11 L58.2,581.35 L58.4,580.33 L58.6,578.94 L58.8,577.09 L59,574.68 L59.2,571.61 L59.4,567.75 L59.6,563.03 L59.8,557.39 L60,550.86 L60.2,543.52 L60.4,535.53 L60.6,527.13 L60.8,518.65 L61,510.46 L61.2,502.97 L61.4,496.6 L61.6,491.72 L61.8,488.62 L62,487.5 L62.2,488.42 L62.4,491.32 L62.6,496 L62.8,502.17 L63,509.46 L63.2,517.49 L63.4,525.81 L63.6,534.05 L63.8,541.88 L64,549.06 L64.2,555.43 L64.4,560.9 L64.6,565.47 L64.8,569.16 L65,572.07 L65.2,574.29 L65.4,575.95 L65.6,577.13 L65.8,577.96 L66,578.51 L66.2,578.84 L66.4,579.07 L66.6,579.22 L66.8,579.23 L67,579.07 L67.2,578.72 L67.4,578.12 L67.6,577.25 L67.8,576.07 L68,574.6 L68.2,572.92 L68.4,571.16 L68.6,569.5 L68.8,568.14 L69,567.26 L69.2,567 L69.4,567.41 L69.6,568.43 L69.8,569.94 L70,571.75 L70.2,573.66 L70.4,575.49 L70.6,577.11 L70.8,578.44 L71,579.48 L71.2,580.24 L71.4,580.79 L71.6,581.16 L71.8,581.41 L72,581.59 L72.2,581.72 L72.4,581.82 L72.6,581.9 L72.8,581.98 L73,582.06 L73.2,582.07 L73.4,582.01 L73.6,581.94 L73.8,581.86 L74,581.75 L74.2,581.6 L74.4,581.4 L74.6,581.11 L74.8,580.71 L75,580.18 L75.2,579.5 L75.4,578.66 L75.6,577.68 L75.8,576.6 L76,575.48 L76.2,574.4 L76.4,573.46 L76.6,572.76 L76.8,572.37 L77,572.32 L77.2,572.62 L77.4,573.22 L77.6,574.06 L77.8,575.04 L78,576.07 L78.2,577.06 L78.4,577.94 L78.6,578.68 L78.8,579.27 L79,579.7 L79.2,580 L79.4,580.19 L79.6,580.29 L79.8,580.33 L80,580.31 L80.2,580.23 L80.4,580.09 L80.6,579.85 L80.8,579.61 L81,579.16 L81.2,578.45 L81.4,577.37 L81.6,575.86 L81.8,573.85 L82,571.32 L82.2,568.32 L82.4,564.98 L82.6,561.52 L82.8,558.2 L83,555.35 L83.2,553.27 L83.4,552.21 L83.6,552.28 L83.8,553.5 L84,555.74 L84.2,558.74 L84.4,562.21 L84.6,565.84 L84.8,569.33 L85,572.48 L85.2,575.17 L85.4,577.34 L85.6,579.01 L85.8,580.24 L86,581.11 L86.2,581.71 L86.4,582.12 L86.6,582.4 L86.8,582.59 L87,582.73 L87.2,582.81 L87.4,582.87 L87.6,582.9 L87.8,582.88 L88,582.79 L88.2,582.6 L88.4,582.28 L88.6,581.81 L88.8,581.19 L89,580.45 L89.2,579.67 L89.4,578.94 L89.6,578.39 L89.8,578.11 L90,578.18 L90.2,578.58 L90.4,579.26 L90.6,580.12 L90.8,581.04 L91,581.91 L91.2,582.64 L91.4,583.23 L91.6,583.66 L91.8,583.96 L92,584.17 L92.2,584.31 L92.4,584.41 L92.6,584.48 L92.8,584.54 L93,584.6 L126.2,584.6" stroke="#cc0c1c" stroke-width="1.9" fill="none" stroke-linejoin="round"/>
<line x1="56.3" y1="552.9" x2="67.1" y2="552.9" stroke="#111" stroke-width="1.15"/>
<line x1="56.3" y1="549.6" x2="56.3" y2="556.2" stroke="#111" stroke-width="1.15"/>
<line x1="67.1" y1="549.6" x2="67.1" y2="556.2" stroke="#111" stroke-width="1.15"/>
<line x1="67.3" y1="572.3" x2="73" y2="572.3" stroke="#111" stroke-width="1.15"/>
<line x1="67.3" y1="569" x2="67.3" y2="575.6" stroke="#111" stroke-width="1.15"/>
<line x1="73" y1="569" x2="73" y2="575.6" stroke="#111" stroke-width="1.15"/>
<line x1="81.7" y1="572.3" x2="88" y2="572.3" stroke="#111" stroke-width="1.15"/>
<line x1="81.7" y1="569" x2="81.7" y2="575.6" stroke="#111" stroke-width="1.15"/>
<line x1="88" y1="569" x2="88" y2="575.6" stroke="#111" stroke-width="1.15"/>
<line x1="87.7" y1="572.5" x2="127" y2="572.5" stroke="#111" stroke-width="1.15"/>
<line x1="87.7" y1="569.2" x2="87.7" y2="575.8" stroke="#111" stroke-width="1.15"/>
<line x1="127" y1="569.2" x2="127" y2="575.8" stroke="#111" stroke-width="1.15"/>
<text x="56.82" y="548.8" font-size="6.59" stroke="#231f20" textLength="9.7" lengthAdjust="spacingAndGlyphs">2N</text>
<text x="67.17" y="565.1" font-size="6.25" stroke="#231f20" textLength="7.3" lengthAdjust="spacingAndGlyphs">4N</text>
<text x="71.81" y="572.74" font-size="6.07" stroke="#231f20" textLength="8.53" lengthAdjust="spacingAndGlyphs">8N</text>
<text x="78.73" y="548.74" font-size="6.5" stroke="#231f20" textLength="13.68" lengthAdjust="spacingAndGlyphs">16N</text>
<text x="98.27" y="569.03" font-size="7.2" stroke="#231f20" textLength="17.53" lengthAdjust="spacingAndGlyphs">≥32N</text>
<line x1="23.3" y1="599.5" x2="57" y2="599.5" stroke="#000" stroke-width="1.2"/>
<polygon points="62.5,599.5 55.5,597.2 55.5,601.8" fill="#000"/>
<text x="36.54" y="606.6" font-size="6.1" stroke="#231f20" textLength="5.27" lengthAdjust="spacingAndGlyphs">PI</text>
<rect x="152.6" y="483.9" width="102.9" height="101" fill="none" stroke="#000" stroke-width="1.5"/>
<line x1="150.3" y1="585.2" x2="152.6" y2="585.2" stroke="#000" stroke-width="1"/>
<line x1="150.3" y1="577.83" x2="152.6" y2="577.83" stroke="#000" stroke-width="1"/>
<line x1="150.3" y1="570.46" x2="152.6" y2="570.46" stroke="#000" stroke-width="1"/>
<line x1="150.3" y1="563.09" x2="152.6" y2="563.09" stroke="#000" stroke-width="1"/>
<line x1="150.3" y1="555.72" x2="152.6" y2="555.72" stroke="#000" stroke-width="1"/>
<line x1="150.3" y1="548.35" x2="152.6" y2="548.35" stroke="#000" stroke-width="1"/>
<line x1="150.3" y1="540.98" x2="152.6" y2="540.98" stroke="#000" stroke-width="1"/>
<line x1="150.3" y1="533.61" x2="152.6" y2="533.61" stroke="#000" stroke-width="1"/>
<line x1="150.3" y1="526.24" x2="152.6" y2="526.24" stroke="#000" stroke-width="1"/>
<line x1="150.3" y1="518.87" x2="152.6" y2="518.87" stroke="#000" stroke-width="1"/>
<line x1="150.3" y1="511.5" x2="152.6" y2="511.5" stroke="#000" stroke-width="1"/>
<line x1="150.3" y1="504.13" x2="152.6" y2="504.13" stroke="#000" stroke-width="1"/>
<line x1="150.3" y1="496.76" x2="152.6" y2="496.76" stroke="#000" stroke-width="1"/>
<line x1="150.3" y1="489.39" x2="152.6" y2="489.39" stroke="#000" stroke-width="1"/>
<line x1="149" y1="496.7" x2="152.6" y2="496.7" stroke="#000" stroke-width="1.1"/>
<text x="135.24" y="498.73" font-size="7.06" stroke="#231f20" textLength="12.14" lengthAdjust="spacingAndGlyphs">600</text>
<line x1="149" y1="526.2" x2="152.6" y2="526.2" stroke="#000" stroke-width="1.1"/>
<text x="135.45" y="528.23" font-size="7.06" stroke="#231f20" textLength="11.93" lengthAdjust="spacingAndGlyphs">400</text>
<line x1="149" y1="555.7" x2="152.6" y2="555.7" stroke="#000" stroke-width="1.1"/>
<text x="135.24" y="557.73" font-size="7.06" stroke="#231f20" textLength="12.14" lengthAdjust="spacingAndGlyphs">200</text>
<line x1="149" y1="585.2" x2="152.6" y2="585.2" stroke="#000" stroke-width="1.1"/>
<text x="142.96" y="587.23" font-size="7.06" stroke="#231f20" textLength="4.46" lengthAdjust="spacingAndGlyphs">0</text>
<line x1="162.5" y1="584.9" x2="162.5" y2="587.9" stroke="#000" stroke-width="1"/>
<line x1="174.5" y1="584.9" x2="174.5" y2="587.9" stroke="#000" stroke-width="1"/>
<line x1="198.9" y1="584.9" x2="198.9" y2="587.9" stroke="#000" stroke-width="1"/>
<line x1="223.6" y1="584.9" x2="223.6" y2="587.9" stroke="#000" stroke-width="1"/>
<line x1="245.7" y1="584.9" x2="245.7" y2="587.9" stroke="#000" stroke-width="1"/>
<line x1="206.34" y1="584.9" x2="206.34" y2="586.7" stroke="#000" stroke-width="0.8"/>
<line x1="210.68" y1="584.9" x2="210.68" y2="586.7" stroke="#000" stroke-width="0.8"/>
<line x1="213.77" y1="584.9" x2="213.77" y2="586.7" stroke="#000" stroke-width="0.8"/>
<line x1="216.16" y1="584.9" x2="216.16" y2="586.7" stroke="#000" stroke-width="0.8"/>
<line x1="218.12" y1="584.9" x2="218.12" y2="586.7" stroke="#000" stroke-width="0.8"/>
<line x1="219.77" y1="584.9" x2="219.77" y2="586.7" stroke="#000" stroke-width="0.8"/>
<line x1="221.21" y1="584.9" x2="221.21" y2="586.7" stroke="#000" stroke-width="0.8"/>
<line x1="222.47" y1="584.9" x2="222.47" y2="586.7" stroke="#000" stroke-width="0.8"/>
<line x1="230.25" y1="584.9" x2="230.25" y2="586.7" stroke="#000" stroke-width="0.8"/>
<line x1="234.14" y1="584.9" x2="234.14" y2="586.7" stroke="#000" stroke-width="0.8"/>
<line x1="236.91" y1="584.9" x2="236.91" y2="586.7" stroke="#000" stroke-width="0.8"/>
<line x1="239.05" y1="584.9" x2="239.05" y2="586.7" stroke="#000" stroke-width="0.8"/>
<line x1="240.8" y1="584.9" x2="240.8" y2="586.7" stroke="#000" stroke-width="0.8"/>
<line x1="242.28" y1="584.9" x2="242.28" y2="586.7" stroke="#000" stroke-width="0.8"/>
<line x1="243.56" y1="584.9" x2="243.56" y2="586.7" stroke="#000" stroke-width="0.8"/>
<line x1="244.69" y1="584.9" x2="244.69" y2="586.7" stroke="#000" stroke-width="0.8"/>
<line x1="154.6" y1="584.9" x2="154.6" y2="586.7" stroke="#000" stroke-width="0.8"/>
<line x1="157.1" y1="584.9" x2="157.1" y2="586.7" stroke="#000" stroke-width="0.8"/>
<line x1="159.6" y1="584.9" x2="159.6" y2="586.7" stroke="#000" stroke-width="0.8"/>
<line x1="165.1" y1="584.9" x2="165.1" y2="586.7" stroke="#000" stroke-width="0.8"/>
<line x1="167.6" y1="584.9" x2="167.6" y2="586.7" stroke="#000" stroke-width="0.8"/>
<line x1="170.1" y1="584.9" x2="170.1" y2="586.7" stroke="#000" stroke-width="0.8"/>
<line x1="172.3" y1="584.9" x2="172.3" y2="586.7" stroke="#000" stroke-width="0.8"/>
<line x1="178.6" y1="584.9" x2="178.6" y2="586.7" stroke="#000" stroke-width="0.8"/>
<line x1="183.6" y1="584.9" x2="183.6" y2="586.7" stroke="#000" stroke-width="0.8"/>
<line x1="188.1" y1="584.9" x2="188.1" y2="586.7" stroke="#000" stroke-width="0.8"/>
<line x1="191.6" y1="584.9" x2="191.6" y2="586.7" stroke="#000" stroke-width="0.8"/>
<line x1="194.6" y1="584.9" x2="194.6" y2="586.7" stroke="#000" stroke-width="0.8"/>
<line x1="196.9" y1="584.9" x2="196.9" y2="586.7" stroke="#000" stroke-width="0.8"/>
<text x="161.53" y="595.23" font-size="6.78" stroke="#231f20" textLength="3.84" lengthAdjust="spacingAndGlyphs">0</text>
<text x="169.63" y="595.23" font-size="6.78" stroke="#231f20" textLength="6.92" lengthAdjust="spacingAndGlyphs">10</text>
<text x="176.53" y="592.79" font-size="3.78" stroke="#231f20" textLength="2.46" lengthAdjust="spacingAndGlyphs">2</text>
<text x="194.32" y="595.23" font-size="6.78" stroke="#231f20" textLength="7.03" lengthAdjust="spacingAndGlyphs">10</text>
<text x="201.39" y="592.75" font-size="3.73" stroke="#231f20" textLength="2.36" lengthAdjust="spacingAndGlyphs">3</text>
<text x="218.33" y="595.23" font-size="6.78" stroke="#231f20" textLength="6.92" lengthAdjust="spacingAndGlyphs">10</text>
<text x="225.36" y="592.79" font-size="3.84" stroke="#231f20" textLength="2.23" lengthAdjust="spacingAndGlyphs">4</text>
<text x="240.93" y="595.23" font-size="6.78" stroke="#231f20" textLength="6.8" lengthAdjust="spacingAndGlyphs">10</text>
<text x="247.78" y="592.75" font-size="3.78" stroke="#231f20" textLength="2.36" lengthAdjust="spacingAndGlyphs">5</text>
<text x="180.46" y="480.41" font-size="9.04" stroke="#231f20" textLength="47.59" lengthAdjust="spacingAndGlyphs">WT+GSK343</text>
<path d="M153.3,584 L185.5,583.99 L185.7,583.83 L185.9,583.66 L186.1,583.48 L186.3,583.28 L186.5,583.06 L186.7,582.8 L186.9,582.48 L187.1,582.07 L187.3,581.51 L187.5,580.76 L187.7,579.73 L187.9,578.33 L188.1,576.47 L188.3,574.03 L188.5,570.86 L188.7,566.84 L188.9,561.88 L189.1,555.93 L189.3,549.01 L189.5,541.23 L189.7,532.79 L189.9,523.98 L190.1,515.17 L190.3,506.8 L190.5,499.35 L190.7,493.26 L190.9,488.92 L191.1,486.63 L191.3,486.53 L191.5,488.62 L191.7,492.76 L191.9,498.65 L192.1,505.96 L192.3,514.25 L192.5,522.99 L192.7,531.73 L192.9,540.09 L193.1,547.8 L193.3,554.64 L193.5,560.51 L193.7,565.4 L193.9,569.35 L194.1,572.45 L194.3,574.81 L194.5,576.56 L194.7,577.83 L194.9,578.72 L195.1,579.34 L195.3,579.76 L195.5,580.04 L195.7,580.22 L195.9,580.33 L196.1,580.4 L196.3,580.42 L196.5,580.37 L196.7,580.24 L196.9,579.98 L197.1,579.52 L197.3,578.82 L197.5,577.79 L197.7,576.43 L197.9,574.75 L198.1,572.86 L198.3,570.91 L198.5,569.14 L198.7,567.8 L198.9,567.08 L199.1,567.11 L199.3,567.89 L199.5,569.3 L199.7,571.13 L199.9,573.14 L200.1,575.11 L200.3,576.85 L200.5,578.28 L200.7,579.36 L200.9,580.14 L201.1,580.66 L201.3,580.99 L201.5,581.2 L201.7,581.3 L201.9,581.34 L202.1,581.35 L202.3,581.34 L202.5,581.33 L202.7,581.3 L202.9,581.26 L203.1,581.2 L203.3,581.08 L203.5,580.9 L203.7,580.62 L203.9,580.19 L204.1,579.59 L204.3,578.78 L204.5,577.75 L204.7,576.54 L204.9,575.23 L205.1,573.91 L205.3,572.74 L205.5,571.85 L205.7,571.37 L205.9,571.35 L206.1,571.81 L206.3,572.67 L206.5,573.82 L206.7,575.1 L206.9,576.38 L207.1,577.53 L207.3,578.45 L207.5,579.09 L207.7,579.41 L207.9,579.4 L208.1,579.05 L208.3,578.41 L208.5,577.58 L208.7,576.71 L208.9,575.98 L209.1,575.56 L209.3,575.55 L209.5,575.94 L209.7,576.64 L209.9,577.49 L210.1,578.32 L210.3,578.97 L210.5,579.34 L210.7,579.39 L210.9,579.06 L211.1,578.38 L211.3,577.3 L211.5,575.72 L211.7,573.62 L211.9,571.03 L212.1,568.05 L212.3,564.89 L212.5,561.8 L212.7,559.11 L212.9,557.12 L213.1,556.1 L213.3,556.18 L213.5,557.36 L213.7,559.51 L213.9,562.36 L214.1,565.61 L214.3,568.93 L214.5,572.07 L214.7,574.82 L214.9,577.1 L215.1,578.87 L215.3,580.17 L215.5,581.08 L215.7,581.65 L215.9,581.98 L216.1,582.1 L216.3,582.06 L216.5,581.88 L216.7,581.59 L216.9,581.21 L217.1,580.8 L217.3,580.42 L217.5,580.13 L217.7,580 L217.9,580.05 L218.1,580.3 L218.3,580.7 L218.5,581.2 L218.7,581.74 L218.9,582.24 L219.1,582.68 L219.3,583.03 L219.5,583.29 L219.7,583.49 L219.9,583.62 L220.1,583.72 L220.3,583.8 L220.5,583.86 L220.7,583.92 L220.9,583.97 L221.1,584 L254.7,584" stroke="#cc0c1c" stroke-width="1.9" fill="none" stroke-linejoin="round"/>
<line x1="187.5" y1="544.2" x2="196.5" y2="544.2" stroke="#111" stroke-width="1.15"/>
<line x1="187.5" y1="540.9" x2="187.5" y2="547.5" stroke="#111" stroke-width="1.15"/>
<line x1="196.5" y1="540.9" x2="196.5" y2="547.5" stroke="#111" stroke-width="1.15"/>
<line x1="196.5" y1="576.4" x2="202.6" y2="576.4" stroke="#111" stroke-width="1.15"/>
<line x1="196.5" y1="573.1" x2="196.5" y2="579.7" stroke="#111" stroke-width="1.15"/>
<line x1="202.6" y1="573.1" x2="202.6" y2="579.7" stroke="#111" stroke-width="1.15"/>
<line x1="202.6" y1="578.1" x2="209.8" y2="578.1" stroke="#111" stroke-width="1.15"/>
<line x1="202.6" y1="574.8" x2="202.6" y2="581.4" stroke="#111" stroke-width="1.15"/>
<line x1="209.8" y1="574.8" x2="209.8" y2="581.4" stroke="#111" stroke-width="1.15"/>
<line x1="209.8" y1="578.1" x2="216.5" y2="578.1" stroke="#111" stroke-width="1.15"/>
<line x1="209.8" y1="574.8" x2="209.8" y2="581.4" stroke="#111" stroke-width="1.15"/>
<line x1="216.5" y1="574.8" x2="216.5" y2="581.4" stroke="#111" stroke-width="1.15"/>
<line x1="217" y1="581.5" x2="253.8" y2="581.5" stroke="#111" stroke-width="1.15"/>
<line x1="217" y1="578.2" x2="217" y2="584.8" stroke="#111" stroke-width="1.15"/>
<line x1="253.8" y1="578.2" x2="253.8" y2="584.8" stroke="#111" stroke-width="1.15"/>
<text x="186.13" y="540.4" font-size="7.3" stroke="#231f20" textLength="9.37" lengthAdjust="spacingAndGlyphs">2N</text>
<text x="194.23" y="565.1" font-size="6.25" stroke="#231f20" textLength="9.37" lengthAdjust="spacingAndGlyphs">4N</text>
<text x="200.71" y="572.74" font-size="6.07" stroke="#231f20" textLength="8.65" lengthAdjust="spacingAndGlyphs">8N</text>
<text x="205.85" y="552.84" font-size="6.5" stroke="#231f20" textLength="13.24" lengthAdjust="spacingAndGlyphs">16N</text>
<text x="227.47" y="577.84" font-size="6.64" stroke="#231f20" textLength="17.43" lengthAdjust="spacingAndGlyphs">≥32N</text>
<rect x="281.2" y="483.9" width="103.9" height="101.6" fill="none" stroke="#000" stroke-width="1.5"/>
<line x1="278.9" y1="585.7" x2="281.2" y2="585.7" stroke="#000" stroke-width="1"/>
<line x1="278.9" y1="577.5" x2="281.2" y2="577.5" stroke="#000" stroke-width="1"/>
<line x1="278.9" y1="569.3" x2="281.2" y2="569.3" stroke="#000" stroke-width="1"/>
<line x1="278.9" y1="561.1" x2="281.2" y2="561.1" stroke="#000" stroke-width="1"/>
<line x1="278.9" y1="552.9" x2="281.2" y2="552.9" stroke="#000" stroke-width="1"/>
<line x1="278.9" y1="544.7" x2="281.2" y2="544.7" stroke="#000" stroke-width="1"/>
<line x1="278.9" y1="536.5" x2="281.2" y2="536.5" stroke="#000" stroke-width="1"/>
<line x1="278.9" y1="528.3" x2="281.2" y2="528.3" stroke="#000" stroke-width="1"/>
<line x1="278.9" y1="520.1" x2="281.2" y2="520.1" stroke="#000" stroke-width="1"/>
<line x1="278.9" y1="511.9" x2="281.2" y2="511.9" stroke="#000" stroke-width="1"/>
<line x1="278.9" y1="503.7" x2="281.2" y2="503.7" stroke="#000" stroke-width="1"/>
<line x1="278.9" y1="495.5" x2="281.2" y2="495.5" stroke="#000" stroke-width="1"/>
<line x1="278.9" y1="487.3" x2="281.2" y2="487.3" stroke="#000" stroke-width="1"/>
<line x1="277.6" y1="487.4" x2="281.2" y2="487.4" stroke="#000" stroke-width="1.1"/>
<text x="263.84" y="489.43" font-size="7.06" stroke="#231f20" textLength="12.05" lengthAdjust="spacingAndGlyphs">300</text>
<line x1="277.6" y1="520.3" x2="281.2" y2="520.3" stroke="#000" stroke-width="1.1"/>
<text x="263.74" y="522.33" font-size="7.06" stroke="#231f20" textLength="12.14" lengthAdjust="spacingAndGlyphs">200</text>
<line x1="277.6" y1="553" x2="281.2" y2="553" stroke="#000" stroke-width="1.1"/>
<text x="264.67" y="555.03" font-size="7.06" stroke="#231f20" textLength="11.19" lengthAdjust="spacingAndGlyphs">100</text>
<line x1="277.6" y1="585.7" x2="281.2" y2="585.7" stroke="#000" stroke-width="1.1"/>
<text x="271.46" y="587.73" font-size="7.06" stroke="#231f20" textLength="4.46" lengthAdjust="spacingAndGlyphs">0</text>
<line x1="291.1" y1="585.5" x2="291.1" y2="588.5" stroke="#000" stroke-width="1"/>
<line x1="303.1" y1="585.5" x2="303.1" y2="588.5" stroke="#000" stroke-width="1"/>
<line x1="327.5" y1="585.5" x2="327.5" y2="588.5" stroke="#000" stroke-width="1"/>
<line x1="352.2" y1="585.5" x2="352.2" y2="588.5" stroke="#000" stroke-width="1"/>
<line x1="374.3" y1="585.5" x2="374.3" y2="588.5" stroke="#000" stroke-width="1"/>
<line x1="334.94" y1="585.5" x2="334.94" y2="587.3" stroke="#000" stroke-width="0.8"/>
<line x1="339.28" y1="585.5" x2="339.28" y2="587.3" stroke="#000" stroke-width="0.8"/>
<line x1="342.37" y1="585.5" x2="342.37" y2="587.3" stroke="#000" stroke-width="0.8"/>
<line x1="344.76" y1="585.5" x2="344.76" y2="587.3" stroke="#000" stroke-width="0.8"/>
<line x1="346.72" y1="585.5" x2="346.72" y2="587.3" stroke="#000" stroke-width="0.8"/>
<line x1="348.37" y1="585.5" x2="348.37" y2="587.3" stroke="#000" stroke-width="0.8"/>
<line x1="349.81" y1="585.5" x2="349.81" y2="587.3" stroke="#000" stroke-width="0.8"/>
<line x1="351.07" y1="585.5" x2="351.07" y2="587.3" stroke="#000" stroke-width="0.8"/>
<line x1="358.85" y1="585.5" x2="358.85" y2="587.3" stroke="#000" stroke-width="0.8"/>
<line x1="362.74" y1="585.5" x2="362.74" y2="587.3" stroke="#000" stroke-width="0.8"/>
<line x1="365.51" y1="585.5" x2="365.51" y2="587.3" stroke="#000" stroke-width="0.8"/>
<line x1="367.65" y1="585.5" x2="367.65" y2="587.3" stroke="#000" stroke-width="0.8"/>
<line x1="369.4" y1="585.5" x2="369.4" y2="587.3" stroke="#000" stroke-width="0.8"/>
<line x1="370.88" y1="585.5" x2="370.88" y2="587.3" stroke="#000" stroke-width="0.8"/>
<line x1="372.16" y1="585.5" x2="372.16" y2="587.3" stroke="#000" stroke-width="0.8"/>
<line x1="373.29" y1="585.5" x2="373.29" y2="587.3" stroke="#000" stroke-width="0.8"/>
<line x1="283.2" y1="585.5" x2="283.2" y2="587.3" stroke="#000" stroke-width="0.8"/>
<line x1="285.7" y1="585.5" x2="285.7" y2="587.3" stroke="#000" stroke-width="0.8"/>
<line x1="288.2" y1="585.5" x2="288.2" y2="587.3" stroke="#000" stroke-width="0.8"/>
<line x1="293.7" y1="585.5" x2="293.7" y2="587.3" stroke="#000" stroke-width="0.8"/>
<line x1="296.2" y1="585.5" x2="296.2" y2="587.3" stroke="#000" stroke-width="0.8"/>
<line x1="298.7" y1="585.5" x2="298.7" y2="587.3" stroke="#000" stroke-width="0.8"/>
<line x1="300.9" y1="585.5" x2="300.9" y2="587.3" stroke="#000" stroke-width="0.8"/>
<line x1="307.2" y1="585.5" x2="307.2" y2="587.3" stroke="#000" stroke-width="0.8"/>
<line x1="312.2" y1="585.5" x2="312.2" y2="587.3" stroke="#000" stroke-width="0.8"/>
<line x1="316.7" y1="585.5" x2="316.7" y2="587.3" stroke="#000" stroke-width="0.8"/>
<line x1="320.2" y1="585.5" x2="320.2" y2="587.3" stroke="#000" stroke-width="0.8"/>
<line x1="323.2" y1="585.5" x2="323.2" y2="587.3" stroke="#000" stroke-width="0.8"/>
<line x1="325.5" y1="585.5" x2="325.5" y2="587.3" stroke="#000" stroke-width="0.8"/>
<text x="290.13" y="595.83" font-size="6.78" stroke="#231f20" textLength="3.84" lengthAdjust="spacingAndGlyphs">0</text>
<text x="298.23" y="595.83" font-size="6.78" stroke="#231f20" textLength="6.92" lengthAdjust="spacingAndGlyphs">10</text>
<text x="305.13" y="593.39" font-size="3.78" stroke="#231f20" textLength="2.46" lengthAdjust="spacingAndGlyphs">2</text>
<text x="322.92" y="595.83" font-size="6.78" stroke="#231f20" textLength="7.03" lengthAdjust="spacingAndGlyphs">10</text>
<text x="329.99" y="593.35" font-size="3.73" stroke="#231f20" textLength="2.36" lengthAdjust="spacingAndGlyphs">3</text>
<text x="346.93" y="595.83" font-size="6.78" stroke="#231f20" textLength="6.92" lengthAdjust="spacingAndGlyphs">10</text>
<text x="353.96" y="593.39" font-size="3.84" stroke="#231f20" textLength="2.23" lengthAdjust="spacingAndGlyphs">4</text>
<text x="369.53" y="595.83" font-size="6.78" stroke="#231f20" textLength="6.8" lengthAdjust="spacingAndGlyphs">10</text>
<text x="376.38" y="593.35" font-size="3.78" stroke="#231f20" textLength="2.36" lengthAdjust="spacingAndGlyphs">5</text>
<text x="296.67" y="480.41" font-size="8.85" stroke="#231f20" textLength="72.88" lengthAdjust="spacingAndGlyphs">JAK2V617F+vehicle</text>
<path d="M281.9,584.6 L314.1,584.59 L314.3,584.58 L314.5,584.56 L314.7,584.36 L314.9,584.15 L315.1,583.89 L315.3,583.57 L315.5,583.16 L315.7,582.61 L315.9,581.87 L316.1,580.85 L316.3,579.47 L316.5,577.61 L316.7,575.15 L316.9,571.97 L317.1,567.98 L317.3,563.09 L317.5,557.23 L317.7,550.43 L317.9,542.77 L318.1,534.46 L318.3,525.79 L318.5,517.12 L318.7,508.88 L318.9,501.55 L319.1,495.55 L319.3,491.28 L319.5,489.02 L319.7,488.92 L319.9,490.98 L320.1,495.05 L320.3,500.85 L320.5,507.98 L320.7,516.02 L320.9,524.49 L321.1,532.94 L321.3,541.02 L321.5,548.43 L321.7,555.01 L321.9,560.63 L322.1,565.28 L322.3,569 L322.5,571.89 L322.7,574.05 L322.9,575.61 L323.1,576.7 L323.3,577.42 L323.5,577.87 L323.7,578.12 L323.9,578.23 L324.1,578.24 L324.3,578.18 L324.5,578.06 L324.7,577.89 L324.9,577.64 L325.1,577.29 L325.3,576.8 L325.5,576.25 L325.7,575.58 L325.9,574.63 L326.1,573.4 L326.3,571.93 L326.5,570.32 L326.7,568.7 L326.9,567.28 L327.1,566.23 L327.3,565.72 L327.5,565.84 L327.7,566.58 L327.9,567.85 L328.1,569.51 L328.3,571.35 L328.5,573.2 L328.7,574.9 L328.9,576.35 L329.1,577.53 L329.3,578.43 L329.5,579.09 L329.7,579.57 L329.9,579.91 L330.1,580.15 L330.3,580.34 L330.5,580.49 L330.7,580.63 L330.9,580.75 L331.1,580.87 L331.3,580.98 L331.5,581.1 L331.7,581.11 L331.9,581.11 L332.1,581.11 L332.3,581.1 L332.5,581.08 L332.7,581.03 L332.9,580.93 L333.1,580.75 L333.3,580.45 L333.5,580 L333.7,579.35 L333.9,578.46 L334.1,577.34 L334.3,576.02 L334.5,574.58 L334.7,573.13 L334.9,571.85 L335.1,570.88 L335.3,570.36 L335.5,570.37 L335.7,570.9 L335.9,571.89 L336.1,573.19 L336.3,574.65 L336.5,576.11 L336.7,577.45 L336.9,578.59 L337.1,579.49 L337.3,580.15 L337.5,580.62 L337.7,580.93 L337.9,581.13 L338.1,581.24 L338.3,581.31 L338.5,581.35 L338.7,581.36 L338.9,581.36 L339.1,581.26 L339.3,581.12 L339.5,580.93 L339.7,580.63 L339.9,580.2 L340.1,579.57 L340.3,578.69 L340.5,577.52 L340.7,576.07 L340.9,574.36 L341.1,572.5 L341.3,570.65 L341.5,568.99 L341.7,567.73 L341.9,567.01 L342.1,566.95 L342.3,567.54 L342.5,568.68 L342.7,570.21 L342.9,571.94 L343.1,573.67 L343.3,575.25 L343.5,576.58 L343.7,577.62 L343.9,578.37 L344.1,578.87 L344.3,579.18 L344.5,579.35 L344.7,579.42 L344.9,579.43 L345.1,579.41 L345.3,579.37 L345.5,579.31 L345.7,579.24 L345.9,579.16 L346.1,579.06 L346.3,578.95 L346.5,578.8 L346.7,578.53 L346.9,578.07 L347.1,577.32 L347.3,576.18 L347.5,574.55 L347.7,572.34 L347.9,569.55 L348.1,566.26 L348.3,562.66 L348.5,559.07 L348.7,555.88 L348.9,553.46 L349.1,552.17 L349.3,552.17 L349.5,553.46 L349.7,555.88 L349.9,559.07 L350.1,562.66 L350.3,566.26 L350.5,569.55 L350.7,572.34 L350.9,574.55 L351.1,576.18 L351.3,577.32 L351.5,578.06 L351.7,578.53 L351.9,578.8 L352.1,578.94 L352.3,579.01 L352.5,579.02 L352.7,578.99 L352.9,578.89 L353.1,578.75 L353.3,578.53 L353.5,578.08 L353.7,577.31 L353.9,576.1 L354.1,574.38 L354.3,572.09 L354.5,569.26 L354.7,566.03 L354.9,562.64 L355.1,559.45 L355.3,556.82 L355.5,555.12 L355.7,554.6 L355.9,555.36 L356.1,557.29 L356.3,560.16 L356.5,563.59 L356.7,567.22 L356.9,570.68 L357.1,573.75 L357.3,576.27 L357.5,578.23 L357.7,579.67 L357.9,580.67 L358.1,581.35 L358.3,581.78 L358.5,582.05 L358.7,582.22 L358.9,582.3 L359.1,582.27 L359.3,582.18 L359.5,582.05 L359.7,581.88 L359.9,581.68 L360.1,581.46 L360.3,581.26 L360.5,581.1 L360.7,581 L360.9,580.98 L361.1,581.05 L361.3,581.2 L361.5,581.44 L361.7,581.74 L361.9,582.08 L362.1,582.43 L362.3,582.77 L362.5,583.08 L362.7,583.35 L362.9,583.58 L363.1,583.76 L363.3,583.9 L363.5,584 L363.7,584.08 L363.9,584.15 L364.1,584.2 L364.3,584.25 L364.5,584.29 L364.7,584.34 L364.9,584.38 L365.1,584.42 L365.3,584.46 L365.5,584.5 L365.7,584.54 L365.9,584.58 L366.1,584.6 L384.3,584.6" stroke="#cc0c1c" stroke-width="1.9" fill="none" stroke-linejoin="round"/>
<line x1="317.7" y1="543.5" x2="325.1" y2="543.5" stroke="#111" stroke-width="1.15"/>
<line x1="317.7" y1="540.2" x2="317.7" y2="546.8" stroke="#111" stroke-width="1.15"/>
<line x1="325.1" y1="540.2" x2="325.1" y2="546.8" stroke="#111" stroke-width="1.15"/>
<line x1="325.8" y1="571.2" x2="330.8" y2="571.2" stroke="#111" stroke-width="1.15"/>
<line x1="325.8" y1="567.9" x2="325.8" y2="574.5" stroke="#111" stroke-width="1.15"/>
<line x1="330.8" y1="567.9" x2="330.8" y2="574.5" stroke="#111" stroke-width="1.15"/>
<line x1="331.5" y1="576.9" x2="339.2" y2="576.9" stroke="#111" stroke-width="1.15"/>
<line x1="331.5" y1="573.6" x2="331.5" y2="580.2" stroke="#111" stroke-width="1.15"/>
<line x1="339.2" y1="573.6" x2="339.2" y2="580.2" stroke="#111" stroke-width="1.15"/>
<line x1="339.2" y1="576.9" x2="346.2" y2="576.9" stroke="#111" stroke-width="1.15"/>
<line x1="339.2" y1="573.6" x2="339.2" y2="580.2" stroke="#111" stroke-width="1.15"/>
<line x1="346.2" y1="573.6" x2="346.2" y2="580.2" stroke="#111" stroke-width="1.15"/>
<line x1="346.9" y1="568.8" x2="353" y2="568.8" stroke="#111" stroke-width="1.15"/>
<line x1="346.9" y1="565.5" x2="346.9" y2="572.1" stroke="#111" stroke-width="1.15"/>
<line x1="353" y1="565.5" x2="353" y2="572.1" stroke="#111" stroke-width="1.15"/>
<line x1="353" y1="570.3" x2="359.2" y2="570.3" stroke="#111" stroke-width="1.15"/>
<line x1="353" y1="567" x2="353" y2="573.6" stroke="#111" stroke-width="1.15"/>
<line x1="359.2" y1="567" x2="359.2" y2="573.6" stroke="#111" stroke-width="1.15"/>
<line x1="359.5" y1="572.8" x2="385.1" y2="572.8" stroke="#111" stroke-width="1.15"/>
<line x1="359.5" y1="569.5" x2="359.5" y2="576.1" stroke="#111" stroke-width="1.15"/>
<line x1="385.1" y1="569.5" x2="385.1" y2="576.1" stroke="#111" stroke-width="1.15"/>
<text x="315.41" y="539.5" font-size="6.59" stroke="#231f20" textLength="9.81" lengthAdjust="spacingAndGlyphs">2N</text>
<text x="323.33" y="563.5" font-size="6.25" stroke="#231f20" textLength="9.26" lengthAdjust="spacingAndGlyphs">4N</text>
<text x="331.7" y="570.23" font-size="6.92" stroke="#231f20" textLength="8.87" lengthAdjust="spacingAndGlyphs">8N</text>
<text x="334.35" y="563.44" font-size="6.07" stroke="#231f20" textLength="13.13" lengthAdjust="spacingAndGlyphs">16N</text>
<text x="343.23" y="548.14" font-size="6.64" stroke="#231f20" textLength="13.16" lengthAdjust="spacingAndGlyphs">32N</text>
<text x="351.42" y="554.83" font-size="6.92" stroke="#231f20" textLength="13.8" lengthAdjust="spacingAndGlyphs">64N</text>
<text x="362.88" y="568.74" font-size="6.5" stroke="#231f20" textLength="19.97" lengthAdjust="spacingAndGlyphs">≥128N</text>
<rect x="411" y="483.8" width="101.4" height="100" fill="none" stroke="#000" stroke-width="1.5"/>
<line x1="408.7" y1="584" x2="411" y2="584" stroke="#000" stroke-width="1"/>
<line x1="408.7" y1="575.8" x2="411" y2="575.8" stroke="#000" stroke-width="1"/>
<line x1="408.7" y1="567.6" x2="411" y2="567.6" stroke="#000" stroke-width="1"/>
<line x1="408.7" y1="559.4" x2="411" y2="559.4" stroke="#000" stroke-width="1"/>
<line x1="408.7" y1="551.2" x2="411" y2="551.2" stroke="#000" stroke-width="1"/>
<line x1="408.7" y1="543" x2="411" y2="543" stroke="#000" stroke-width="1"/>
<line x1="408.7" y1="534.8" x2="411" y2="534.8" stroke="#000" stroke-width="1"/>
<line x1="408.7" y1="526.6" x2="411" y2="526.6" stroke="#000" stroke-width="1"/>
<line x1="408.7" y1="518.4" x2="411" y2="518.4" stroke="#000" stroke-width="1"/>
<line x1="408.7" y1="510.2" x2="411" y2="510.2" stroke="#000" stroke-width="1"/>
<line x1="408.7" y1="502" x2="411" y2="502" stroke="#000" stroke-width="1"/>
<line x1="408.7" y1="493.8" x2="411" y2="493.8" stroke="#000" stroke-width="1"/>
<line x1="408.7" y1="485.6" x2="411" y2="485.6" stroke="#000" stroke-width="1"/>
<line x1="407.4" y1="486.5" x2="411" y2="486.5" stroke="#000" stroke-width="1.1"/>
<text x="393.74" y="488.53" font-size="7.06" stroke="#231f20" textLength="12.14" lengthAdjust="spacingAndGlyphs">600</text>
<line x1="407.4" y1="519.3" x2="411" y2="519.3" stroke="#000" stroke-width="1.1"/>
<text x="393.95" y="521.33" font-size="7.06" stroke="#231f20" textLength="11.93" lengthAdjust="spacingAndGlyphs">400</text>
<line x1="407.4" y1="552" x2="411" y2="552" stroke="#000" stroke-width="1.1"/>
<text x="393.74" y="554.03" font-size="7.06" stroke="#231f20" textLength="12.14" lengthAdjust="spacingAndGlyphs">200</text>
<line x1="407.4" y1="584" x2="411" y2="584" stroke="#000" stroke-width="1.1"/>
<text x="401.46" y="586.03" font-size="7.06" stroke="#231f20" textLength="4.46" lengthAdjust="spacingAndGlyphs">0</text>
<line x1="420.9" y1="583.8" x2="420.9" y2="586.8" stroke="#000" stroke-width="1"/>
<line x1="432.9" y1="583.8" x2="432.9" y2="586.8" stroke="#000" stroke-width="1"/>
<line x1="457.3" y1="583.8" x2="457.3" y2="586.8" stroke="#000" stroke-width="1"/>
<line x1="482" y1="583.8" x2="482" y2="586.8" stroke="#000" stroke-width="1"/>
<line x1="504.1" y1="583.8" x2="504.1" y2="586.8" stroke="#000" stroke-width="1"/>
<line x1="464.74" y1="583.8" x2="464.74" y2="585.6" stroke="#000" stroke-width="0.8"/>
<line x1="469.08" y1="583.8" x2="469.08" y2="585.6" stroke="#000" stroke-width="0.8"/>
<line x1="472.17" y1="583.8" x2="472.17" y2="585.6" stroke="#000" stroke-width="0.8"/>
<line x1="474.56" y1="583.8" x2="474.56" y2="585.6" stroke="#000" stroke-width="0.8"/>
<line x1="476.52" y1="583.8" x2="476.52" y2="585.6" stroke="#000" stroke-width="0.8"/>
<line x1="478.17" y1="583.8" x2="478.17" y2="585.6" stroke="#000" stroke-width="0.8"/>
<line x1="479.61" y1="583.8" x2="479.61" y2="585.6" stroke="#000" stroke-width="0.8"/>
<line x1="480.87" y1="583.8" x2="480.87" y2="585.6" stroke="#000" stroke-width="0.8"/>
<line x1="488.65" y1="583.8" x2="488.65" y2="585.6" stroke="#000" stroke-width="0.8"/>
<line x1="492.54" y1="583.8" x2="492.54" y2="585.6" stroke="#000" stroke-width="0.8"/>
<line x1="495.31" y1="583.8" x2="495.31" y2="585.6" stroke="#000" stroke-width="0.8"/>
<line x1="497.45" y1="583.8" x2="497.45" y2="585.6" stroke="#000" stroke-width="0.8"/>
<line x1="499.2" y1="583.8" x2="499.2" y2="585.6" stroke="#000" stroke-width="0.8"/>
<line x1="500.68" y1="583.8" x2="500.68" y2="585.6" stroke="#000" stroke-width="0.8"/>
<line x1="501.96" y1="583.8" x2="501.96" y2="585.6" stroke="#000" stroke-width="0.8"/>
<line x1="503.09" y1="583.8" x2="503.09" y2="585.6" stroke="#000" stroke-width="0.8"/>
<line x1="413" y1="583.8" x2="413" y2="585.6" stroke="#000" stroke-width="0.8"/>
<line x1="415.5" y1="583.8" x2="415.5" y2="585.6" stroke="#000" stroke-width="0.8"/>
<line x1="418" y1="583.8" x2="418" y2="585.6" stroke="#000" stroke-width="0.8"/>
<line x1="423.5" y1="583.8" x2="423.5" y2="585.6" stroke="#000" stroke-width="0.8"/>
<line x1="426" y1="583.8" x2="426" y2="585.6" stroke="#000" stroke-width="0.8"/>
<line x1="428.5" y1="583.8" x2="428.5" y2="585.6" stroke="#000" stroke-width="0.8"/>
<line x1="430.7" y1="583.8" x2="430.7" y2="585.6" stroke="#000" stroke-width="0.8"/>
<line x1="437" y1="583.8" x2="437" y2="585.6" stroke="#000" stroke-width="0.8"/>
<line x1="442" y1="583.8" x2="442" y2="585.6" stroke="#000" stroke-width="0.8"/>
<line x1="446.5" y1="583.8" x2="446.5" y2="585.6" stroke="#000" stroke-width="0.8"/>
<line x1="450" y1="583.8" x2="450" y2="585.6" stroke="#000" stroke-width="0.8"/>
<line x1="453" y1="583.8" x2="453" y2="585.6" stroke="#000" stroke-width="0.8"/>
<line x1="455.3" y1="583.8" x2="455.3" y2="585.6" stroke="#000" stroke-width="0.8"/>
<text x="419.93" y="594.13" font-size="6.78" stroke="#231f20" textLength="3.84" lengthAdjust="spacingAndGlyphs">0</text>
<text x="428.03" y="594.13" font-size="6.78" stroke="#231f20" textLength="6.92" lengthAdjust="spacingAndGlyphs">10</text>
<text x="434.93" y="591.69" font-size="3.78" stroke="#231f20" textLength="2.46" lengthAdjust="spacingAndGlyphs">2</text>
<text x="452.72" y="594.13" font-size="6.78" stroke="#231f20" textLength="7.03" lengthAdjust="spacingAndGlyphs">10</text>
<text x="459.79" y="591.65" font-size="3.73" stroke="#231f20" textLength="2.36" lengthAdjust="spacingAndGlyphs">3</text>
<text x="476.73" y="594.13" font-size="6.78" stroke="#231f20" textLength="6.92" lengthAdjust="spacingAndGlyphs">10</text>
<text x="483.76" y="591.69" font-size="3.84" stroke="#231f20" textLength="2.23" lengthAdjust="spacingAndGlyphs">4</text>
<text x="499.33" y="594.13" font-size="6.78" stroke="#231f20" textLength="6.8" lengthAdjust="spacingAndGlyphs">10</text>
<text x="506.18" y="591.65" font-size="3.78" stroke="#231f20" textLength="2.36" lengthAdjust="spacingAndGlyphs">5</text>
<text x="424.58" y="480.61" font-size="9.18" stroke="#231f20" textLength="76.97" lengthAdjust="spacingAndGlyphs">JAK2V617F+GSK343</text>
<path d="M411.7,582.9 L444.5,582.88 L444.7,582.71 L444.9,582.52 L445.1,582.31 L445.3,582.07 L445.5,581.77 L445.7,581.39 L445.9,580.87 L446.1,580.16 L446.3,579.17 L446.5,577.81 L446.7,575.94 L446.9,573.45 L447.1,570.21 L447.3,566.1 L447.5,560.98 L447.7,554.82 L447.9,547.63 L448.1,539.56 L448.3,530.82 L448.5,521.77 L448.7,512.84 L448.9,504.54 L449.1,497.37 L449.3,491.82 L449.5,488.28 L449.7,487 L449.9,488.08 L450.1,491.42 L450.3,496.77 L450.5,503.74 L450.7,511.84 L450.9,520.57 L451.1,529.45 L451.3,538.06 L451.5,546 L451.7,553.05 L451.9,559.08 L452.1,564.07 L452.3,568.04 L452.5,571.12 L452.7,573.42 L452.9,575.09 L453.1,576.26 L453.3,577.05 L453.5,577.57 L453.7,577.89 L453.9,578.08 L454.1,578.22 L454.3,578.33 L454.5,578.39 L454.7,578.4 L454.9,578.36 L455.1,578.23 L455.3,578.01 L455.5,577.64 L455.7,577.11 L455.9,576.4 L456.1,575.53 L456.3,574.53 L456.5,573.48 L456.7,572.49 L456.9,571.68 L457.1,571.15 L457.3,571 L457.5,571.25 L457.7,571.86 L457.9,572.76 L458.1,573.85 L458.3,574.99 L458.5,576.08 L458.7,577.05 L458.9,577.85 L459.1,578.47 L459.3,578.93 L459.5,579.26 L459.7,579.48 L459.9,579.64 L460.1,579.74 L460.3,579.82 L460.5,579.88 L460.7,579.87 L460.9,579.85 L461.1,579.82 L461.3,579.78 L461.5,579.71 L461.7,579.61 L461.9,579.46 L462.1,579.25 L462.3,578.98 L462.5,578.64 L462.7,578.24 L462.9,577.81 L463.1,577.38 L463.3,576.99 L463.5,576.69 L463.7,576.53 L463.9,576.51 L464.1,576.65 L464.3,576.92 L464.5,577.28 L464.7,577.68 L464.9,578.09 L465.1,578.46 L465.3,578.77 L465.5,579.01 L465.7,579.19 L465.9,579.31 L466.1,579.38 L466.3,579.42 L466.5,579.44 L466.7,579.44 L466.9,579.43 L467.1,579.42 L467.3,579.41 L467.5,579.4 L467.7,579.39 L467.9,579.38 L468.1,579.37 L468.3,579.34 L468.5,579.28 L468.7,579.18 L468.9,579.02 L469.1,578.78 L469.3,578.43 L469.5,577.95 L469.7,577.36 L469.9,576.65 L470.1,575.88 L470.3,575.11 L470.5,574.43 L470.7,573.91 L470.9,573.64 L471.1,573.64 L471.3,573.91 L471.5,574.43 L471.7,575.11 L471.9,575.88 L472.1,576.65 L472.3,577.36 L472.5,577.95 L472.7,578.43 L472.9,578.78 L473.1,579.02 L473.3,579.18 L473.5,579.28 L473.7,579.33 L473.9,579.36 L474.1,579.38 L474.3,579.38 L474.5,579.36 L474.7,579.33 L474.9,579.26 L475.1,579.12 L475.3,578.85 L475.5,578.4 L475.7,577.69 L475.9,576.62 L476.1,575.13 L476.3,573.18 L476.5,570.78 L476.7,568.06 L476.9,565.21 L477.1,562.51 L477.3,560.28 L477.5,558.8 L477.7,558.3 L477.9,558.84 L478.1,560.34 L478.3,562.6 L478.5,565.33 L478.7,568.22 L478.9,570.97 L479.1,573.4 L479.3,575.39 L479.5,576.91 L479.7,578.01 L479.9,578.76 L480.1,579.24 L480.3,579.54 L480.5,579.71 L480.7,579.81 L480.9,579.92 L481.1,580 L481.3,580.06 L481.5,580.1 L481.7,580.11 L481.9,580.08 L482.1,580.02 L482.3,579.89 L482.5,579.71 L482.7,579.48 L482.9,579.2 L483.1,578.91 L483.3,578.63 L483.5,578.42 L483.7,578.3 L483.9,578.3 L484.1,578.43 L484.3,578.69 L484.5,579.05 L484.7,579.46 L484.9,579.89 L485.1,580.31 L485.3,580.68 L485.5,581 L485.7,581.26 L485.9,581.46 L486.1,581.63 L486.3,581.75 L486.5,581.86 L486.7,581.94 L486.9,582 L487.1,582.07 L487.3,582.13 L487.5,582.18 L487.7,582.24 L487.9,582.3 L488.1,582.36 L488.3,582.41 L488.5,582.47 L488.7,582.53 L488.9,582.59 L489.1,582.64 L489.3,582.7 L489.5,582.76 L489.7,582.81 L489.9,582.87 L490.1,582.9 L511.7,582.9" stroke="#cc0c1c" stroke-width="1.9" fill="none" stroke-linejoin="round"/>
<line x1="447.3" y1="557.5" x2="454.6" y2="557.5" stroke="#111" stroke-width="1.15"/>
<line x1="447.3" y1="554.2" x2="447.3" y2="560.8" stroke="#111" stroke-width="1.15"/>
<line x1="454.6" y1="554.2" x2="454.6" y2="560.8" stroke="#111" stroke-width="1.15"/>
<line x1="454.6" y1="575.4" x2="461.2" y2="575.4" stroke="#111" stroke-width="1.15"/>
<line x1="454.6" y1="572.1" x2="454.6" y2="578.7" stroke="#111" stroke-width="1.15"/>
<line x1="461.2" y1="572.1" x2="461.2" y2="578.7" stroke="#111" stroke-width="1.15"/>
<line x1="461.2" y1="575.4" x2="467.8" y2="575.4" stroke="#111" stroke-width="1.15"/>
<line x1="461.2" y1="572.1" x2="461.2" y2="578.7" stroke="#111" stroke-width="1.15"/>
<line x1="467.8" y1="572.1" x2="467.8" y2="578.7" stroke="#111" stroke-width="1.15"/>
<line x1="467.8" y1="575.4" x2="474.5" y2="575.4" stroke="#111" stroke-width="1.15"/>
<line x1="467.8" y1="572.1" x2="467.8" y2="578.7" stroke="#111" stroke-width="1.15"/>
<line x1="474.5" y1="572.1" x2="474.5" y2="578.7" stroke="#111" stroke-width="1.15"/>
<line x1="474.5" y1="575.4" x2="482.4" y2="575.4" stroke="#111" stroke-width="1.15"/>
<line x1="474.5" y1="572.1" x2="474.5" y2="578.7" stroke="#111" stroke-width="1.15"/>
<line x1="482.4" y1="572.1" x2="482.4" y2="578.7" stroke="#111" stroke-width="1.15"/>
<line x1="482.4" y1="581.7" x2="512.4" y2="581.7" stroke="#111" stroke-width="1.15"/>
<line x1="482.4" y1="578.4" x2="482.4" y2="585" stroke="#111" stroke-width="1.15"/>
<line x1="512.4" y1="578.4" x2="512.4" y2="585" stroke="#111" stroke-width="1.15"/>
<text x="444.7" y="553.9" font-size="6.3" stroke="#231f20" textLength="10.26" lengthAdjust="spacingAndGlyphs">2N</text>
<text x="453.03" y="569" font-size="7.12" stroke="#231f20" textLength="9.47" lengthAdjust="spacingAndGlyphs">4N</text>
<text x="459.37" y="573.54" font-size="6.5" stroke="#231f20" textLength="9.75" lengthAdjust="spacingAndGlyphs">8N</text>
<text x="464.55" y="567.43" font-size="7.49" stroke="#231f20" textLength="13.35" lengthAdjust="spacingAndGlyphs">16N</text>
<text x="471.12" y="556.74" font-size="6.21" stroke="#231f20" textLength="13.37" lengthAdjust="spacingAndGlyphs">32N</text>
<text x="491.27" y="578.24" font-size="6.64" stroke="#231f20" textLength="17.32" lengthAdjust="spacingAndGlyphs">≥64N</text>
<text x="65.97" y="633.7" font-size="12.97" font-weight="bold" fill="#000" stroke="#000" textLength="8.17" lengthAdjust="spacingAndGlyphs">ii</text>
<line x1="118" y1="628.7" x2="118" y2="710.3" stroke="#000" stroke-width="1.3"/>
<line x1="114.4" y1="629.3" x2="118" y2="629.3" stroke="#000" stroke-width="1.1"/>
<text x="101.66" y="631.52" font-size="8.19" stroke="#231f20" textLength="9.58" lengthAdjust="spacingAndGlyphs">50</text>
<line x1="114.4" y1="645.5" x2="118" y2="645.5" stroke="#000" stroke-width="1.1"/>
<text x="101.81" y="647.72" font-size="8.19" stroke="#231f20" textLength="9.43" lengthAdjust="spacingAndGlyphs">40</text>
<line x1="114.4" y1="661.6" x2="118" y2="661.6" stroke="#000" stroke-width="1.1"/>
<text x="101.67" y="663.82" font-size="8.19" stroke="#231f20" textLength="9.56" lengthAdjust="spacingAndGlyphs">30</text>
<line x1="114.4" y1="677.7" x2="118" y2="677.7" stroke="#000" stroke-width="1.1"/>
<text x="101.56" y="679.92" font-size="8.19" stroke="#231f20" textLength="9.68" lengthAdjust="spacingAndGlyphs">20</text>
<line x1="114.4" y1="693.8" x2="118" y2="693.8" stroke="#000" stroke-width="1.1"/>
<text x="102.4" y="696.02" font-size="8.19" stroke="#231f20" textLength="8.81" lengthAdjust="spacingAndGlyphs">10</text>
<line x1="114.4" y1="709.9" x2="118" y2="709.9" stroke="#000" stroke-width="1.1"/>
<text x="106.09" y="712.12" font-size="8.19" stroke="#231f20" textLength="5.18" lengthAdjust="spacingAndGlyphs">0</text>
<line x1="117.4" y1="709.8" x2="238.8" y2="709.8" stroke="#000" stroke-width="1.4"/>
<line x1="133.1" y1="709.8" x2="133.1" y2="713.2" stroke="#000" stroke-width="1.1"/>
<line x1="163.2" y1="709.8" x2="163.2" y2="713.2" stroke="#000" stroke-width="1.1"/>
<line x1="193.6" y1="709.8" x2="193.6" y2="713.2" stroke="#000" stroke-width="1.1"/>
<line x1="223.7" y1="709.8" x2="223.7" y2="713.2" stroke="#000" stroke-width="1.1"/>
<text x="94.51" y="702.22" font-size="9.12" stroke="#231f20" textLength="65.94" lengthAdjust="spacingAndGlyphs" transform="rotate(-90 94.51 702.22)">Mean ploidy ≥8N</text>
<line x1="129.3" y1="620.1" x2="194.8" y2="620.1" stroke="#333" stroke-width="1.3"/>
<polygon points="154.5,615.1 154.92,616.12 156.02,616.21 155.18,616.92 155.44,617.99 154.5,617.42 153.56,617.99 153.82,616.92 152.98,616.21 154.08,616.12" fill="#111"/>
<polygon points="158,615.1 158.42,616.12 159.52,616.21 158.68,616.92 158.94,617.99 158,617.42 157.06,617.99 157.32,616.92 156.48,616.21 157.58,616.12" fill="#111"/>
<polygon points="161.5,615.1 161.92,616.12 163.02,616.21 162.18,616.92 162.44,617.99 161.5,617.42 160.56,617.99 160.82,616.92 159.98,616.21 161.08,616.12" fill="#111"/>
<line x1="161" y1="627.4" x2="194.8" y2="627.4" stroke="#333" stroke-width="1.3"/>
<polygon points="171.8,622.6 172.22,623.62 173.32,623.71 172.48,624.42 172.74,625.49 171.8,624.92 170.86,625.49 171.12,624.42 170.28,623.71 171.38,623.62" fill="#111"/>
<polygon points="175.3,622.6 175.72,623.62 176.82,623.71 175.98,624.42 176.24,625.49 175.3,624.92 174.36,625.49 174.62,624.42 173.78,623.71 174.88,623.62" fill="#111"/>
<polygon points="178.8,622.6 179.22,623.62 180.32,623.71 179.48,624.42 179.74,625.49 178.8,624.92 177.86,625.49 178.12,624.42 177.28,623.71 178.38,623.62" fill="#111"/>
<line x1="161" y1="634.9" x2="225.8" y2="634.9" stroke="#333" stroke-width="1.3"/>
<polygon points="196.5,630.2 196.92,631.22 198.02,631.31 197.18,632.02 197.44,633.09 196.5,632.52 195.56,633.09 195.82,632.02 194.98,631.31 196.08,631.22" fill="#111"/>
<line x1="193.1" y1="641.4" x2="225.9" y2="641.4" stroke="#333" stroke-width="1.3"/>
<polygon points="210.3,637.2 210.72,638.22 211.82,638.31 210.98,639.02 211.24,640.09 210.3,639.52 209.36,640.09 209.62,639.02 208.78,638.31 209.88,638.22" fill="#111"/>
<polygon points="128.1,681.35 126.2,684.77 130,684.77" fill="#111"/>
<circle cx="133.1" cy="685.2" r="1.9" fill="#111"/>
<circle cx="137.9" cy="684.5" r="1.9" fill="#111"/>
<line x1="123.1" y1="684.4" x2="143.1" y2="684.4" stroke="#000" stroke-width="1.4"/>
<rect x="156.4" y="681.7" width="3.4" height="3.4" fill="#111"/>
<rect x="161.4" y="683.8" width="3.4" height="3.4" fill="#111"/>
<circle cx="168.1" cy="684.4" r="1.9" fill="#111"/>
<line x1="153.1" y1="684.4" x2="173.1" y2="684.4" stroke="#000" stroke-width="1.4"/>
<line x1="193.3" y1="649.5" x2="193.3" y2="654.4" stroke="#555" stroke-width="1.2"/>
<line x1="188.1" y1="649.5" x2="198.5" y2="649.5" stroke="#555" stroke-width="1.2"/>
<line x1="188.1" y1="654.4" x2="198.5" y2="654.4" stroke="#555" stroke-width="1.2"/>
<polygon points="193.3,645.64 191.3,649.24 195.3,649.24" fill="#111"/>
<polygon points="190.6,657.36 188.6,653.76 192.6,653.76" fill="#111"/>
<polygon points="196.7,656.76 194.7,653.16 198.7,653.16" fill="#111"/>
<line x1="183.5" y1="651.8" x2="203.7" y2="651.8" stroke="#000" stroke-width="1.4"/>
<line x1="223.5" y1="663.4" x2="223.5" y2="672.3" stroke="#111" stroke-width="1.2"/>
<line x1="218" y1="663.4" x2="229" y2="663.4" stroke="#111" stroke-width="1.2"/>
<line x1="218" y1="672.3" x2="229" y2="672.3" stroke="#111" stroke-width="1.2"/>
<polygon points="220.6,663.66 218.6,660.06 222.6,660.06" fill="#111"/>
<polygon points="226.2,666.86 224.2,663.26 228.2,663.26" fill="#111"/>
<polygon points="223.5,679.06 221.5,675.46 225.5,675.46" fill="#111"/>
<line x1="213.5" y1="667.7" x2="233.7" y2="667.7" stroke="#000" stroke-width="1.4"/>
<text x="137.7" y="720" font-size="8.8" text-anchor="end" stroke="#231f20" textLength="44.5" lengthAdjust="spacingAndGlyphs" transform="rotate(-45 137.7 720)">WT+vehicle</text>
<text x="167.8" y="720" font-size="8.8" text-anchor="end" stroke="#231f20" textLength="49" lengthAdjust="spacingAndGlyphs" transform="rotate(-45 167.8 720)">WT+GSK343</text>
<text x="198.2" y="720" font-size="8.8" text-anchor="end" stroke="#231f20" textLength="75" lengthAdjust="spacingAndGlyphs" transform="rotate(-45 198.2 720)">JAK2V617F+vehicle</text>
<text x="228.3" y="720" font-size="8.8" text-anchor="end" stroke="#231f20" textLength="75.5" lengthAdjust="spacingAndGlyphs" transform="rotate(-45 228.3 720)">JAK2V617+GSK343</text>
<text x="279.44" y="631.8" font-size="12.65" font-weight="bold" fill="#000" stroke="#000" textLength="7.83" lengthAdjust="spacingAndGlyphs">F</text>
<line x1="335.1" y1="627.6" x2="335.1" y2="708.9" stroke="#000" stroke-width="1.3"/>
<line x1="332" y1="628.2" x2="335.1" y2="628.2" stroke="#000" stroke-width="1.1"/>
<text x="309.36" y="630.47" font-size="8.55" stroke="#231f20" textLength="19.38" lengthAdjust="spacingAndGlyphs">2000</text>
<line x1="332" y1="648.3" x2="335.1" y2="648.3" stroke="#000" stroke-width="1.1"/>
<text x="309.65" y="650.57" font-size="8.55" stroke="#231f20" textLength="19.09" lengthAdjust="spacingAndGlyphs">1500</text>
<line x1="332" y1="668.3" x2="335.1" y2="668.3" stroke="#000" stroke-width="1.1"/>
<text x="309.65" y="670.57" font-size="8.55" stroke="#231f20" textLength="19.09" lengthAdjust="spacingAndGlyphs">1000</text>
<line x1="332" y1="688.4" x2="335.1" y2="688.4" stroke="#000" stroke-width="1.1"/>
<text x="314.1" y="690.67" font-size="8.55" stroke="#231f20" textLength="14.64" lengthAdjust="spacingAndGlyphs">500</text>
<line x1="332" y1="708.4" x2="335.1" y2="708.4" stroke="#000" stroke-width="1.1"/>
<text x="323.37" y="710.67" font-size="8.55" stroke="#231f20" textLength="5.41" lengthAdjust="spacingAndGlyphs">0</text>
<line x1="334.5" y1="708.3" x2="456.3" y2="708.3" stroke="#000" stroke-width="1.4"/>
<text x="303.8" y="702.2" font-size="10.4" stroke="#231f20" textLength="68.6" lengthAdjust="spacingAndGlyphs" transform="rotate(-90 303.8 702.2)">Platelets (x10<tspan font-size="7.6" dy="-4.3">6</tspan><tspan dy="4.3">/mL)</tspan></text>
<line x1="349.5" y1="619.5" x2="411.3" y2="619.5" stroke="#333" stroke-width="1.3"/>
<polygon points="378.7,614.2 379.12,615.22 380.22,615.31 379.38,616.02 379.64,617.09 378.7,616.52 377.76,617.09 378.02,616.02 377.18,615.31 378.28,615.22" fill="#111"/>
<polygon points="382.3,614.2 382.72,615.22 383.82,615.31 382.98,616.02 383.24,617.09 382.3,616.52 381.36,617.09 381.62,616.02 380.78,615.31 381.88,615.22" fill="#111"/>
<line x1="373.3" y1="628.3" x2="410.5" y2="628.3" stroke="#333" stroke-width="1.3"/>
<polygon points="390.7,623.1 391.12,624.12 392.22,624.21 391.38,624.92 391.64,625.99 390.7,625.42 389.76,625.99 390.02,624.92 389.18,624.21 390.28,624.12" fill="#111"/>
<polygon points="394.3,623.1 394.72,624.12 395.82,624.21 394.98,624.92 395.24,625.99 394.3,625.42 393.36,625.99 393.62,624.92 392.78,624.21 393.88,624.12" fill="#111"/>
<line x1="412.9" y1="636.3" x2="441.2" y2="636.3" stroke="#333" stroke-width="1.3"/>
<polygon points="426.7,631.1 427.12,632.12 428.22,632.21 427.38,632.92 427.64,633.99 426.7,633.42 425.76,633.99 426.02,632.92 425.18,632.21 426.28,632.12" fill="#111"/>
<line x1="348.3" y1="664.5" x2="376.8" y2="664.5" stroke="#333" stroke-width="1.3"/>
<polygon points="361.8,659.7 362.22,660.72 363.32,660.81 362.48,661.52 362.74,662.59 361.8,662.02 360.86,662.59 361.12,661.52 360.28,660.81 361.38,660.72" fill="#111"/>
<circle cx="345.4" cy="673.5" r="2" fill="#111"/>
<circle cx="355.2" cy="672.5" r="2" fill="#111"/>
<circle cx="348" cy="682.1" r="2" fill="#111"/>
<circle cx="352.3" cy="678" r="2" fill="#111"/>
<circle cx="349" cy="676.6" r="2" fill="#111"/>
<line x1="350" y1="674.8" x2="350" y2="678.6" stroke="#111" stroke-width="1.1"/>
<line x1="345.5" y1="674.8" x2="354.5" y2="674.8" stroke="#111" stroke-width="1.1"/>
<line x1="345.5" y1="678.6" x2="354.5" y2="678.6" stroke="#111" stroke-width="1.1"/>
<line x1="340.2" y1="676.6" x2="359.8" y2="676.6" stroke="#000" stroke-width="1.4"/>
<rect x="378.8" y="675.1" width="3.6" height="3.6" fill="#111"/>
<rect x="376.5" y="683.4" width="3.6" height="3.6" fill="#111"/>
<rect x="371.3" y="680" width="3.6" height="3.6" fill="#111"/>
<rect x="385.7" y="678.8" width="3.6" height="3.6" fill="#111"/>
<rect x="381.7" y="680.7" width="3.6" height="3.6" fill="#111"/>
<line x1="370.2" y1="681.8" x2="389.8" y2="681.8" stroke="#000" stroke-width="1.4"/>
<line x1="410.6" y1="655.4" x2="410.6" y2="663.5" stroke="#111" stroke-width="1.2"/>
<line x1="405.3" y1="655.4" x2="415.9" y2="655.4" stroke="#111" stroke-width="1.2"/>
<line x1="405.3" y1="663.5" x2="415.9" y2="663.5" stroke="#111" stroke-width="1.2"/>
<polygon points="410.9,639.54 408.9,643.14 412.9,643.14" fill="#111"/>
<polygon points="410.6,655.06 408.8,658.3 412.4,658.3" fill="#111"/>
<polygon points="403.3,662.24 401.3,665.84 405.3,665.84" fill="#111"/>
<polygon points="408.3,662.24 406.3,665.84 410.3,665.84" fill="#111"/>
<polygon points="413.2,662.24 411.2,665.84 415.2,665.84" fill="#111"/>
<polygon points="418.1,662.24 416.1,665.84 420.1,665.84" fill="#111"/>
<line x1="400.2" y1="659.4" x2="420.6" y2="659.4" stroke="#000" stroke-width="1.4"/>
<line x1="440.6" y1="668.3" x2="440.6" y2="677.3" stroke="#111" stroke-width="1.2"/>
<line x1="435.4" y1="668.3" x2="445.8" y2="668.3" stroke="#111" stroke-width="1.2"/>
<line x1="435.4" y1="677.3" x2="445.8" y2="677.3" stroke="#111" stroke-width="1.2"/>
<polygon points="440.9,658.96 438.9,655.36 442.9,655.36" fill="#111"/>
<polygon points="440.9,692.36 438.9,688.76 442.9,688.76" fill="#111"/>
<polygon points="433.1,672.45 431.2,669.03 435,669.03" fill="#111"/>
<polygon points="448.3,673.05 446.4,669.63 450.2,669.63" fill="#111"/>
<polygon points="438.6,675.85 436.7,672.43 440.5,672.43" fill="#111"/>
<polygon points="443.5,676.45 441.6,673.03 445.4,673.03" fill="#111"/>
<line x1="430.2" y1="672.9" x2="451" y2="672.9" stroke="#000" stroke-width="1.4"/>
<text x="355.1" y="718.6" font-size="8.8" text-anchor="end" stroke="#231f20" textLength="44.5" lengthAdjust="spacingAndGlyphs" transform="rotate(-45 355.1 718.6)">WT+vehicle</text>
<text x="384.8" y="718.6" font-size="8.8" text-anchor="end" stroke="#231f20" textLength="49" lengthAdjust="spacingAndGlyphs" transform="rotate(-45 384.8 718.6)">WT+GSK343</text>
<text x="415.1" y="718.6" font-size="8.8" text-anchor="end" stroke="#231f20" textLength="75" lengthAdjust="spacingAndGlyphs" transform="rotate(-45 415.1 718.6)">JAK2V617F+vehicle</text>
<text x="445.6" y="718.6" font-size="8.8" text-anchor="end" stroke="#231f20" textLength="75.5" lengthAdjust="spacingAndGlyphs" transform="rotate(-45 445.6 718.6)">JAK2V617+GSK343</text>
</svg></body></html>
